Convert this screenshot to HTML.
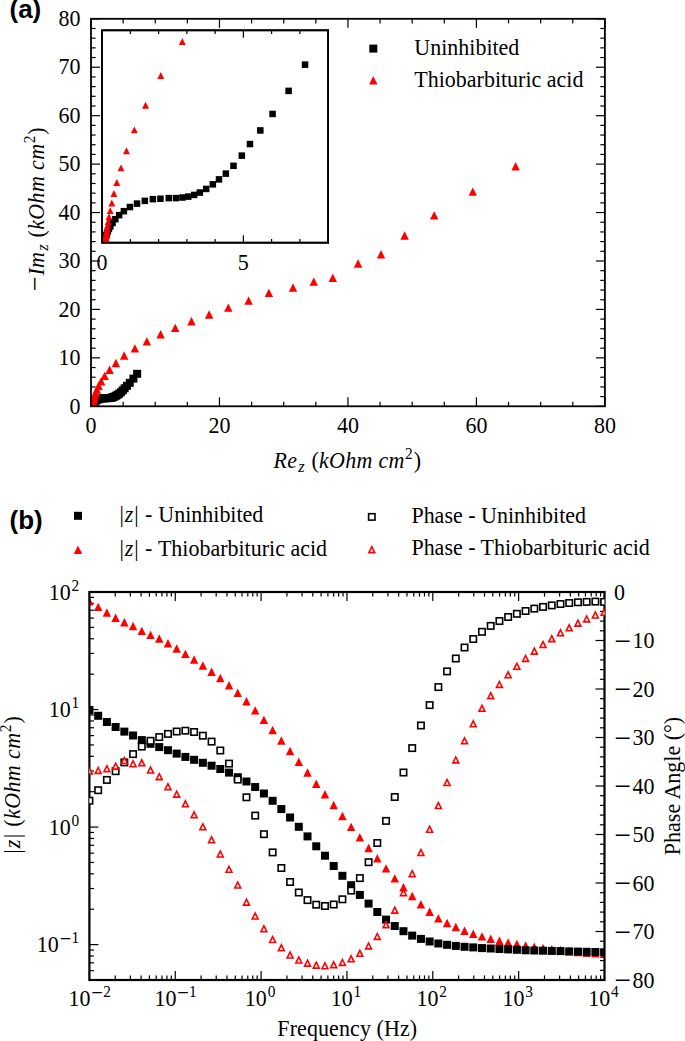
<!DOCTYPE html>
<html><head><meta charset="utf-8"><title>EIS Nyquist and Bode plots</title>
<style>html,body{margin:0;padding:0;background:#fff}body{width:685px;height:1041px;overflow:hidden}svg text{fill:#000}</style></head>
<body>
<svg width="685" height="1041" viewBox="0 0 685 1041" style="display:block">
<defs>
<clipPath id="ca"><rect x="91.00" y="18.80" width="513.90" height="387.50"/></clipPath>
<clipPath id="ci"><rect x="102.10" y="30.30" width="226.00" height="212.40"/></clipPath>
<clipPath id="cb"><rect x="89.40" y="592.00" width="515.10" height="388.00"/></clipPath>
</defs>
<rect width="685" height="1041" fill="#fff"/>
<line x1="91.00" y1="406.30" x2="91.00" y2="397.30" stroke="#000" stroke-width="1.2"/>
<line x1="91.00" y1="18.80" x2="91.00" y2="27.80" stroke="#000" stroke-width="1.2"/>
<line x1="123.12" y1="406.30" x2="123.12" y2="401.70" stroke="#000" stroke-width="1.2"/>
<line x1="123.12" y1="18.80" x2="123.12" y2="23.40" stroke="#000" stroke-width="1.2"/>
<line x1="155.24" y1="406.30" x2="155.24" y2="401.70" stroke="#000" stroke-width="1.2"/>
<line x1="155.24" y1="18.80" x2="155.24" y2="23.40" stroke="#000" stroke-width="1.2"/>
<line x1="187.36" y1="406.30" x2="187.36" y2="401.70" stroke="#000" stroke-width="1.2"/>
<line x1="187.36" y1="18.80" x2="187.36" y2="23.40" stroke="#000" stroke-width="1.2"/>
<line x1="219.47" y1="406.30" x2="219.47" y2="397.30" stroke="#000" stroke-width="1.2"/>
<line x1="219.47" y1="18.80" x2="219.47" y2="27.80" stroke="#000" stroke-width="1.2"/>
<line x1="251.59" y1="406.30" x2="251.59" y2="401.70" stroke="#000" stroke-width="1.2"/>
<line x1="251.59" y1="18.80" x2="251.59" y2="23.40" stroke="#000" stroke-width="1.2"/>
<line x1="283.71" y1="406.30" x2="283.71" y2="401.70" stroke="#000" stroke-width="1.2"/>
<line x1="283.71" y1="18.80" x2="283.71" y2="23.40" stroke="#000" stroke-width="1.2"/>
<line x1="315.83" y1="406.30" x2="315.83" y2="401.70" stroke="#000" stroke-width="1.2"/>
<line x1="315.83" y1="18.80" x2="315.83" y2="23.40" stroke="#000" stroke-width="1.2"/>
<line x1="347.95" y1="406.30" x2="347.95" y2="397.30" stroke="#000" stroke-width="1.2"/>
<line x1="347.95" y1="18.80" x2="347.95" y2="27.80" stroke="#000" stroke-width="1.2"/>
<line x1="380.07" y1="406.30" x2="380.07" y2="401.70" stroke="#000" stroke-width="1.2"/>
<line x1="380.07" y1="18.80" x2="380.07" y2="23.40" stroke="#000" stroke-width="1.2"/>
<line x1="412.19" y1="406.30" x2="412.19" y2="401.70" stroke="#000" stroke-width="1.2"/>
<line x1="412.19" y1="18.80" x2="412.19" y2="23.40" stroke="#000" stroke-width="1.2"/>
<line x1="444.31" y1="406.30" x2="444.31" y2="401.70" stroke="#000" stroke-width="1.2"/>
<line x1="444.31" y1="18.80" x2="444.31" y2="23.40" stroke="#000" stroke-width="1.2"/>
<line x1="476.43" y1="406.30" x2="476.43" y2="397.30" stroke="#000" stroke-width="1.2"/>
<line x1="476.43" y1="18.80" x2="476.43" y2="27.80" stroke="#000" stroke-width="1.2"/>
<line x1="508.54" y1="406.30" x2="508.54" y2="401.70" stroke="#000" stroke-width="1.2"/>
<line x1="508.54" y1="18.80" x2="508.54" y2="23.40" stroke="#000" stroke-width="1.2"/>
<line x1="540.66" y1="406.30" x2="540.66" y2="401.70" stroke="#000" stroke-width="1.2"/>
<line x1="540.66" y1="18.80" x2="540.66" y2="23.40" stroke="#000" stroke-width="1.2"/>
<line x1="572.78" y1="406.30" x2="572.78" y2="401.70" stroke="#000" stroke-width="1.2"/>
<line x1="572.78" y1="18.80" x2="572.78" y2="23.40" stroke="#000" stroke-width="1.2"/>
<line x1="604.90" y1="406.30" x2="604.90" y2="397.30" stroke="#000" stroke-width="1.2"/>
<line x1="604.90" y1="18.80" x2="604.90" y2="27.80" stroke="#000" stroke-width="1.2"/>
<line x1="91.00" y1="406.30" x2="100.00" y2="406.30" stroke="#000" stroke-width="1.2"/>
<line x1="604.90" y1="406.30" x2="595.90" y2="406.30" stroke="#000" stroke-width="1.2"/>
<line x1="91.00" y1="396.61" x2="95.60" y2="396.61" stroke="#000" stroke-width="1.2"/>
<line x1="604.90" y1="396.61" x2="600.30" y2="396.61" stroke="#000" stroke-width="1.2"/>
<line x1="91.00" y1="386.93" x2="95.60" y2="386.93" stroke="#000" stroke-width="1.2"/>
<line x1="604.90" y1="386.93" x2="600.30" y2="386.93" stroke="#000" stroke-width="1.2"/>
<line x1="91.00" y1="377.24" x2="95.60" y2="377.24" stroke="#000" stroke-width="1.2"/>
<line x1="604.90" y1="377.24" x2="600.30" y2="377.24" stroke="#000" stroke-width="1.2"/>
<line x1="91.00" y1="367.55" x2="95.60" y2="367.55" stroke="#000" stroke-width="1.2"/>
<line x1="604.90" y1="367.55" x2="600.30" y2="367.55" stroke="#000" stroke-width="1.2"/>
<line x1="91.00" y1="357.86" x2="100.00" y2="357.86" stroke="#000" stroke-width="1.2"/>
<line x1="604.90" y1="357.86" x2="595.90" y2="357.86" stroke="#000" stroke-width="1.2"/>
<line x1="91.00" y1="348.18" x2="95.60" y2="348.18" stroke="#000" stroke-width="1.2"/>
<line x1="604.90" y1="348.18" x2="600.30" y2="348.18" stroke="#000" stroke-width="1.2"/>
<line x1="91.00" y1="338.49" x2="95.60" y2="338.49" stroke="#000" stroke-width="1.2"/>
<line x1="604.90" y1="338.49" x2="600.30" y2="338.49" stroke="#000" stroke-width="1.2"/>
<line x1="91.00" y1="328.80" x2="95.60" y2="328.80" stroke="#000" stroke-width="1.2"/>
<line x1="604.90" y1="328.80" x2="600.30" y2="328.80" stroke="#000" stroke-width="1.2"/>
<line x1="91.00" y1="319.11" x2="95.60" y2="319.11" stroke="#000" stroke-width="1.2"/>
<line x1="604.90" y1="319.11" x2="600.30" y2="319.11" stroke="#000" stroke-width="1.2"/>
<line x1="91.00" y1="309.43" x2="100.00" y2="309.43" stroke="#000" stroke-width="1.2"/>
<line x1="604.90" y1="309.43" x2="595.90" y2="309.43" stroke="#000" stroke-width="1.2"/>
<line x1="91.00" y1="299.74" x2="95.60" y2="299.74" stroke="#000" stroke-width="1.2"/>
<line x1="604.90" y1="299.74" x2="600.30" y2="299.74" stroke="#000" stroke-width="1.2"/>
<line x1="91.00" y1="290.05" x2="95.60" y2="290.05" stroke="#000" stroke-width="1.2"/>
<line x1="604.90" y1="290.05" x2="600.30" y2="290.05" stroke="#000" stroke-width="1.2"/>
<line x1="91.00" y1="280.36" x2="95.60" y2="280.36" stroke="#000" stroke-width="1.2"/>
<line x1="604.90" y1="280.36" x2="600.30" y2="280.36" stroke="#000" stroke-width="1.2"/>
<line x1="91.00" y1="270.68" x2="95.60" y2="270.68" stroke="#000" stroke-width="1.2"/>
<line x1="604.90" y1="270.68" x2="600.30" y2="270.68" stroke="#000" stroke-width="1.2"/>
<line x1="91.00" y1="260.99" x2="100.00" y2="260.99" stroke="#000" stroke-width="1.2"/>
<line x1="604.90" y1="260.99" x2="595.90" y2="260.99" stroke="#000" stroke-width="1.2"/>
<line x1="91.00" y1="251.30" x2="95.60" y2="251.30" stroke="#000" stroke-width="1.2"/>
<line x1="604.90" y1="251.30" x2="600.30" y2="251.30" stroke="#000" stroke-width="1.2"/>
<line x1="91.00" y1="241.61" x2="95.60" y2="241.61" stroke="#000" stroke-width="1.2"/>
<line x1="604.90" y1="241.61" x2="600.30" y2="241.61" stroke="#000" stroke-width="1.2"/>
<line x1="91.00" y1="231.93" x2="95.60" y2="231.93" stroke="#000" stroke-width="1.2"/>
<line x1="604.90" y1="231.93" x2="600.30" y2="231.93" stroke="#000" stroke-width="1.2"/>
<line x1="91.00" y1="222.24" x2="95.60" y2="222.24" stroke="#000" stroke-width="1.2"/>
<line x1="604.90" y1="222.24" x2="600.30" y2="222.24" stroke="#000" stroke-width="1.2"/>
<line x1="91.00" y1="212.55" x2="100.00" y2="212.55" stroke="#000" stroke-width="1.2"/>
<line x1="604.90" y1="212.55" x2="595.90" y2="212.55" stroke="#000" stroke-width="1.2"/>
<line x1="91.00" y1="202.86" x2="95.60" y2="202.86" stroke="#000" stroke-width="1.2"/>
<line x1="604.90" y1="202.86" x2="600.30" y2="202.86" stroke="#000" stroke-width="1.2"/>
<line x1="91.00" y1="193.18" x2="95.60" y2="193.18" stroke="#000" stroke-width="1.2"/>
<line x1="604.90" y1="193.18" x2="600.30" y2="193.18" stroke="#000" stroke-width="1.2"/>
<line x1="91.00" y1="183.49" x2="95.60" y2="183.49" stroke="#000" stroke-width="1.2"/>
<line x1="604.90" y1="183.49" x2="600.30" y2="183.49" stroke="#000" stroke-width="1.2"/>
<line x1="91.00" y1="173.80" x2="95.60" y2="173.80" stroke="#000" stroke-width="1.2"/>
<line x1="604.90" y1="173.80" x2="600.30" y2="173.80" stroke="#000" stroke-width="1.2"/>
<line x1="91.00" y1="164.11" x2="100.00" y2="164.11" stroke="#000" stroke-width="1.2"/>
<line x1="604.90" y1="164.11" x2="595.90" y2="164.11" stroke="#000" stroke-width="1.2"/>
<line x1="91.00" y1="154.43" x2="95.60" y2="154.43" stroke="#000" stroke-width="1.2"/>
<line x1="604.90" y1="154.43" x2="600.30" y2="154.43" stroke="#000" stroke-width="1.2"/>
<line x1="91.00" y1="144.74" x2="95.60" y2="144.74" stroke="#000" stroke-width="1.2"/>
<line x1="604.90" y1="144.74" x2="600.30" y2="144.74" stroke="#000" stroke-width="1.2"/>
<line x1="91.00" y1="135.05" x2="95.60" y2="135.05" stroke="#000" stroke-width="1.2"/>
<line x1="604.90" y1="135.05" x2="600.30" y2="135.05" stroke="#000" stroke-width="1.2"/>
<line x1="91.00" y1="125.36" x2="95.60" y2="125.36" stroke="#000" stroke-width="1.2"/>
<line x1="604.90" y1="125.36" x2="600.30" y2="125.36" stroke="#000" stroke-width="1.2"/>
<line x1="91.00" y1="115.68" x2="100.00" y2="115.68" stroke="#000" stroke-width="1.2"/>
<line x1="604.90" y1="115.68" x2="595.90" y2="115.68" stroke="#000" stroke-width="1.2"/>
<line x1="91.00" y1="105.99" x2="95.60" y2="105.99" stroke="#000" stroke-width="1.2"/>
<line x1="604.90" y1="105.99" x2="600.30" y2="105.99" stroke="#000" stroke-width="1.2"/>
<line x1="91.00" y1="96.30" x2="95.60" y2="96.30" stroke="#000" stroke-width="1.2"/>
<line x1="604.90" y1="96.30" x2="600.30" y2="96.30" stroke="#000" stroke-width="1.2"/>
<line x1="91.00" y1="86.61" x2="95.60" y2="86.61" stroke="#000" stroke-width="1.2"/>
<line x1="604.90" y1="86.61" x2="600.30" y2="86.61" stroke="#000" stroke-width="1.2"/>
<line x1="91.00" y1="76.93" x2="95.60" y2="76.93" stroke="#000" stroke-width="1.2"/>
<line x1="604.90" y1="76.93" x2="600.30" y2="76.93" stroke="#000" stroke-width="1.2"/>
<line x1="91.00" y1="67.24" x2="100.00" y2="67.24" stroke="#000" stroke-width="1.2"/>
<line x1="604.90" y1="67.24" x2="595.90" y2="67.24" stroke="#000" stroke-width="1.2"/>
<line x1="91.00" y1="57.55" x2="95.60" y2="57.55" stroke="#000" stroke-width="1.2"/>
<line x1="604.90" y1="57.55" x2="600.30" y2="57.55" stroke="#000" stroke-width="1.2"/>
<line x1="91.00" y1="47.86" x2="95.60" y2="47.86" stroke="#000" stroke-width="1.2"/>
<line x1="604.90" y1="47.86" x2="600.30" y2="47.86" stroke="#000" stroke-width="1.2"/>
<line x1="91.00" y1="38.18" x2="95.60" y2="38.18" stroke="#000" stroke-width="1.2"/>
<line x1="604.90" y1="38.18" x2="600.30" y2="38.18" stroke="#000" stroke-width="1.2"/>
<line x1="91.00" y1="28.49" x2="95.60" y2="28.49" stroke="#000" stroke-width="1.2"/>
<line x1="604.90" y1="28.49" x2="600.30" y2="28.49" stroke="#000" stroke-width="1.2"/>
<line x1="91.00" y1="18.80" x2="100.00" y2="18.80" stroke="#000" stroke-width="1.2"/>
<line x1="604.90" y1="18.80" x2="595.90" y2="18.80" stroke="#000" stroke-width="1.2"/>
<g clip-path="url(#ca)">
<rect x="133.90" y="370.56" width="6.50" height="6.50" fill="#000" stroke="#000" stroke-width="1.5"/>
<rect x="130.16" y="375.35" width="6.50" height="6.50" fill="#000" stroke="#000" stroke-width="1.5"/>
<rect x="126.51" y="379.56" width="6.50" height="6.50" fill="#000" stroke="#000" stroke-width="1.5"/>
<rect x="123.73" y="382.57" width="6.50" height="6.50" fill="#000" stroke="#000" stroke-width="1.5"/>
<rect x="121.37" y="385.05" width="6.50" height="6.50" fill="#000" stroke="#000" stroke-width="1.5"/>
<rect x="119.52" y="387.16" width="6.50" height="6.50" fill="#000" stroke="#000" stroke-width="1.5"/>
<rect x="117.63" y="389.02" width="6.50" height="6.50" fill="#000" stroke="#000" stroke-width="1.5"/>
<rect x="115.89" y="390.44" width="6.50" height="6.50" fill="#000" stroke="#000" stroke-width="1.5"/>
<rect x="114.33" y="391.50" width="6.50" height="6.50" fill="#000" stroke="#000" stroke-width="1.5"/>
<rect x="112.93" y="392.40" width="6.50" height="6.50" fill="#000" stroke="#000" stroke-width="1.5"/>
<rect x="111.42" y="393.24" width="6.50" height="6.50" fill="#000" stroke="#000" stroke-width="1.5"/>
<rect x="109.97" y="393.90" width="6.50" height="6.50" fill="#000" stroke="#000" stroke-width="1.5"/>
<rect x="108.69" y="394.34" width="6.50" height="6.50" fill="#000" stroke="#000" stroke-width="1.5"/>
<rect x="107.35" y="394.64" width="6.50" height="6.50" fill="#000" stroke="#000" stroke-width="1.5"/>
<rect x="106.03" y="394.81" width="6.50" height="6.50" fill="#000" stroke="#000" stroke-width="1.5"/>
<rect x="104.55" y="394.91" width="6.50" height="6.50" fill="#000" stroke="#000" stroke-width="1.5"/>
<rect x="102.91" y="394.92" width="6.50" height="6.50" fill="#000" stroke="#000" stroke-width="1.5"/>
<rect x="101.02" y="395.03" width="6.50" height="6.50" fill="#000" stroke="#000" stroke-width="1.5"/>
<rect x="99.30" y="395.11" width="6.50" height="6.50" fill="#000" stroke="#000" stroke-width="1.5"/>
<rect x="97.47" y="395.42" width="6.50" height="6.50" fill="#000" stroke="#000" stroke-width="1.5"/>
<rect x="95.69" y="395.92" width="6.50" height="6.50" fill="#000" stroke="#000" stroke-width="1.5"/>
<rect x="94.08" y="396.54" width="6.50" height="6.50" fill="#000" stroke="#000" stroke-width="1.5"/>
<rect x="92.71" y="397.30" width="6.50" height="6.50" fill="#000" stroke="#000" stroke-width="1.5"/>
<rect x="91.62" y="398.02" width="6.50" height="6.50" fill="#000" stroke="#000" stroke-width="1.5"/>
<rect x="90.77" y="398.77" width="6.50" height="6.50" fill="#000" stroke="#000" stroke-width="1.5"/>
<rect x="90.12" y="399.45" width="6.50" height="6.50" fill="#000" stroke="#000" stroke-width="1.5"/>
<rect x="89.64" y="400.06" width="6.50" height="6.50" fill="#000" stroke="#000" stroke-width="1.5"/>
<rect x="89.30" y="400.56" width="6.50" height="6.50" fill="#000" stroke="#000" stroke-width="1.5"/>
<rect x="89.03" y="401.02" width="6.50" height="6.50" fill="#000" stroke="#000" stroke-width="1.5"/>
<rect x="88.85" y="401.39" width="6.50" height="6.50" fill="#000" stroke="#000" stroke-width="1.5"/>
<rect x="88.72" y="401.69" width="6.50" height="6.50" fill="#000" stroke="#000" stroke-width="1.5"/>
<rect x="88.62" y="401.96" width="6.50" height="6.50" fill="#000" stroke="#000" stroke-width="1.5"/>
<rect x="88.55" y="402.16" width="6.50" height="6.50" fill="#000" stroke="#000" stroke-width="1.5"/>
<rect x="88.50" y="402.33" width="6.50" height="6.50" fill="#000" stroke="#000" stroke-width="1.5"/>
<rect x="88.46" y="402.47" width="6.50" height="6.50" fill="#000" stroke="#000" stroke-width="1.5"/>
<rect x="88.43" y="402.58" width="6.50" height="6.50" fill="#000" stroke="#000" stroke-width="1.5"/>
<rect x="88.41" y="402.67" width="6.50" height="6.50" fill="#000" stroke="#000" stroke-width="1.5"/>
<rect x="88.39" y="402.74" width="6.50" height="6.50" fill="#000" stroke="#000" stroke-width="1.5"/>
<rect x="88.38" y="402.80" width="6.50" height="6.50" fill="#000" stroke="#000" stroke-width="1.5"/>
<rect x="88.37" y="402.85" width="6.50" height="6.50" fill="#000" stroke="#000" stroke-width="1.5"/>
<rect x="88.36" y="402.88" width="6.50" height="6.50" fill="#000" stroke="#000" stroke-width="1.5"/>
<rect x="88.36" y="402.91" width="6.50" height="6.50" fill="#000" stroke="#000" stroke-width="1.5"/>
<rect x="88.35" y="402.94" width="6.50" height="6.50" fill="#000" stroke="#000" stroke-width="1.5"/>
<rect x="88.35" y="402.96" width="6.50" height="6.50" fill="#000" stroke="#000" stroke-width="1.5"/>
<rect x="88.35" y="402.97" width="6.50" height="6.50" fill="#000" stroke="#000" stroke-width="1.5"/>
<rect x="88.34" y="402.99" width="6.50" height="6.50" fill="#000" stroke="#000" stroke-width="1.5"/>
<rect x="88.34" y="403.00" width="6.50" height="6.50" fill="#000" stroke="#000" stroke-width="1.5"/>
<rect x="88.33" y="403.00" width="6.50" height="6.50" fill="#000" stroke="#000" stroke-width="1.5"/>
<rect x="88.33" y="403.01" width="6.50" height="6.50" fill="#000" stroke="#000" stroke-width="1.5"/>
<rect x="88.32" y="403.02" width="6.50" height="6.50" fill="#000" stroke="#000" stroke-width="1.5"/>
<rect x="88.32" y="403.02" width="6.50" height="6.50" fill="#000" stroke="#000" stroke-width="1.5"/>
<rect x="88.32" y="403.02" width="6.50" height="6.50" fill="#000" stroke="#000" stroke-width="1.5"/>
<rect x="88.32" y="403.03" width="6.50" height="6.50" fill="#000" stroke="#000" stroke-width="1.5"/>
<rect x="88.31" y="403.03" width="6.50" height="6.50" fill="#000" stroke="#000" stroke-width="1.5"/>
<rect x="88.31" y="403.03" width="6.50" height="6.50" fill="#000" stroke="#000" stroke-width="1.5"/>
<rect x="88.31" y="403.03" width="6.50" height="6.50" fill="#000" stroke="#000" stroke-width="1.5"/>
<rect x="88.31" y="403.03" width="6.50" height="6.50" fill="#000" stroke="#000" stroke-width="1.5"/>
<rect x="88.30" y="403.04" width="6.50" height="6.50" fill="#000" stroke="#000" stroke-width="1.5"/>
<rect x="88.30" y="403.04" width="6.50" height="6.50" fill="#000" stroke="#000" stroke-width="1.5"/>
<rect x="88.30" y="403.04" width="6.50" height="6.50" fill="#000" stroke="#000" stroke-width="1.5"/>
<path d="M515.62,163.80 L518.62,169.80 L512.62,169.80 Z" fill="#f00" stroke="#f00" stroke-width="1.5" stroke-linejoin="miter"/>
<path d="M472.76,189.09 L475.76,195.09 L469.76,195.09 Z" fill="#f00" stroke="#f00" stroke-width="1.5" stroke-linejoin="miter"/>
<path d="M434.18,212.83 L437.18,218.83 L431.18,218.83 Z" fill="#f00" stroke="#f00" stroke-width="1.5" stroke-linejoin="miter"/>
<path d="M404.60,232.93 L407.60,238.93 L401.60,238.93 Z" fill="#f00" stroke="#f00" stroke-width="1.5" stroke-linejoin="miter"/>
<path d="M381.07,251.77 L384.07,257.77 L378.07,257.77 Z" fill="#f00" stroke="#f00" stroke-width="1.5" stroke-linejoin="miter"/>
<path d="M358.06,260.92 L361.06,266.92 L355.06,266.92 Z" fill="#f00" stroke="#f00" stroke-width="1.5" stroke-linejoin="miter"/>
<path d="M332.79,275.25 L335.79,281.25 L329.79,281.25 Z" fill="#f00" stroke="#f00" stroke-width="1.5" stroke-linejoin="miter"/>
<path d="M313.76,279.06 L316.76,285.06 L310.76,285.06 Z" fill="#f00" stroke="#f00" stroke-width="1.5" stroke-linejoin="miter"/>
<path d="M293.04,285.00 L296.04,291.00 L290.04,291.00 Z" fill="#f00" stroke="#f00" stroke-width="1.5" stroke-linejoin="miter"/>
<path d="M268.90,290.29 L271.90,296.29 L265.90,296.29 Z" fill="#f00" stroke="#f00" stroke-width="1.5" stroke-linejoin="miter"/>
<path d="M248.59,298.12 L251.59,304.12 L245.59,304.12 Z" fill="#f00" stroke="#f00" stroke-width="1.5" stroke-linejoin="miter"/>
<path d="M228.30,305.07 L231.30,311.07 L225.30,311.07 Z" fill="#f00" stroke="#f00" stroke-width="1.5" stroke-linejoin="miter"/>
<path d="M209.12,311.95 L212.12,317.95 L206.12,317.95 Z" fill="#f00" stroke="#f00" stroke-width="1.5" stroke-linejoin="miter"/>
<path d="M191.46,318.64 L194.46,324.64 L188.46,324.64 Z" fill="#f00" stroke="#f00" stroke-width="1.5" stroke-linejoin="miter"/>
<path d="M175.21,325.34 L178.21,331.34 L172.21,331.34 Z" fill="#f00" stroke="#f00" stroke-width="1.5" stroke-linejoin="miter"/>
<path d="M160.63,331.67 L163.63,337.67 L157.63,337.67 Z" fill="#f00" stroke="#f00" stroke-width="1.5" stroke-linejoin="miter"/>
<path d="M146.86,338.78 L149.86,344.78 L143.86,344.78 Z" fill="#f00" stroke="#f00" stroke-width="1.5" stroke-linejoin="miter"/>
<path d="M134.87,345.82 L137.87,351.82 L131.87,351.82 Z" fill="#f00" stroke="#f00" stroke-width="1.5" stroke-linejoin="miter"/>
<path d="M124.17,353.00 L127.17,359.00 L121.17,359.00 Z" fill="#f00" stroke="#f00" stroke-width="1.5" stroke-linejoin="miter"/>
<path d="M115.89,360.41 L118.89,366.41 L112.89,366.41 Z" fill="#f00" stroke="#f00" stroke-width="1.5" stroke-linejoin="miter"/>
<path d="M109.54,367.17 L112.54,373.17 L106.54,373.17 Z" fill="#f00" stroke="#f00" stroke-width="1.5" stroke-linejoin="miter"/>
<path d="M104.64,373.35 L107.64,379.35 L101.64,379.35 Z" fill="#f00" stroke="#f00" stroke-width="1.5" stroke-linejoin="miter"/>
<path d="M101.17,378.78 L104.17,384.78 L98.17,384.78 Z" fill="#f00" stroke="#f00" stroke-width="1.5" stroke-linejoin="miter"/>
<path d="M98.63,383.29 L101.63,389.29 L95.63,389.29 Z" fill="#f00" stroke="#f00" stroke-width="1.5" stroke-linejoin="miter"/>
<path d="M96.85,387.09 L99.85,393.09 L93.85,393.09 Z" fill="#f00" stroke="#f00" stroke-width="1.5" stroke-linejoin="miter"/>
<path d="M95.60,390.22 L98.60,396.22 L92.60,396.22 Z" fill="#f00" stroke="#f00" stroke-width="1.5" stroke-linejoin="miter"/>
<path d="M94.64,392.88 L97.64,398.88 L91.64,398.88 Z" fill="#f00" stroke="#f00" stroke-width="1.5" stroke-linejoin="miter"/>
<path d="M94.00,394.91 L97.00,400.91 L91.00,400.91 Z" fill="#f00" stroke="#f00" stroke-width="1.5" stroke-linejoin="miter"/>
<path d="M93.51,396.62 L96.51,402.62 L90.51,402.62 Z" fill="#f00" stroke="#f00" stroke-width="1.5" stroke-linejoin="miter"/>
<path d="M93.15,398.02 L96.15,404.02 L90.15,404.02 Z" fill="#f00" stroke="#f00" stroke-width="1.5" stroke-linejoin="miter"/>
<path d="M92.87,399.14 L95.87,405.14 L89.87,405.14 Z" fill="#f00" stroke="#f00" stroke-width="1.5" stroke-linejoin="miter"/>
<path d="M92.68,400.02 L95.68,406.02 L89.68,406.02 Z" fill="#f00" stroke="#f00" stroke-width="1.5" stroke-linejoin="miter"/>
<path d="M92.53,400.76 L95.53,406.76 L89.53,406.76 Z" fill="#f00" stroke="#f00" stroke-width="1.5" stroke-linejoin="miter"/>
<path d="M92.42,401.34 L95.42,407.34 L89.42,407.34 Z" fill="#f00" stroke="#f00" stroke-width="1.5" stroke-linejoin="miter"/>
<path d="M92.33,401.82 L95.33,407.82 L89.33,407.82 Z" fill="#f00" stroke="#f00" stroke-width="1.5" stroke-linejoin="miter"/>
<path d="M92.26,402.21 L95.26,408.21 L89.26,408.21 Z" fill="#f00" stroke="#f00" stroke-width="1.5" stroke-linejoin="miter"/>
<path d="M92.22,402.50 L95.22,408.50 L89.22,408.50 Z" fill="#f00" stroke="#f00" stroke-width="1.5" stroke-linejoin="miter"/>
<path d="M92.17,402.75 L95.17,408.75 L89.17,408.75 Z" fill="#f00" stroke="#f00" stroke-width="1.5" stroke-linejoin="miter"/>
<path d="M92.13,402.95 L95.13,408.95 L89.13,408.95 Z" fill="#f00" stroke="#f00" stroke-width="1.5" stroke-linejoin="miter"/>
<path d="M92.09,403.11 L95.09,409.11 L89.09,409.11 Z" fill="#f00" stroke="#f00" stroke-width="1.5" stroke-linejoin="miter"/>
<path d="M92.06,403.24 L95.06,409.24 L89.06,409.24 Z" fill="#f00" stroke="#f00" stroke-width="1.5" stroke-linejoin="miter"/>
<path d="M92.05,403.34 L95.05,409.34 L89.05,409.34 Z" fill="#f00" stroke="#f00" stroke-width="1.5" stroke-linejoin="miter"/>
<path d="M92.04,403.42 L95.04,409.42 L89.04,409.42 Z" fill="#f00" stroke="#f00" stroke-width="1.5" stroke-linejoin="miter"/>
<path d="M92.02,403.48 L95.02,409.48 L89.02,409.48 Z" fill="#f00" stroke="#f00" stroke-width="1.5" stroke-linejoin="miter"/>
<path d="M92.00,403.53 L95.00,409.53 L89.00,409.53 Z" fill="#f00" stroke="#f00" stroke-width="1.5" stroke-linejoin="miter"/>
<path d="M91.98,403.57 L94.98,409.57 L88.98,409.57 Z" fill="#f00" stroke="#f00" stroke-width="1.5" stroke-linejoin="miter"/>
<path d="M91.96,403.60 L94.96,409.60 L88.96,409.60 Z" fill="#f00" stroke="#f00" stroke-width="1.5" stroke-linejoin="miter"/>
<path d="M91.95,403.63 L94.95,409.63 L88.95,409.63 Z" fill="#f00" stroke="#f00" stroke-width="1.5" stroke-linejoin="miter"/>
<path d="M91.93,403.65 L94.93,409.65 L88.93,409.65 Z" fill="#f00" stroke="#f00" stroke-width="1.5" stroke-linejoin="miter"/>
<path d="M91.92,403.67 L94.92,409.67 L88.92,409.67 Z" fill="#f00" stroke="#f00" stroke-width="1.5" stroke-linejoin="miter"/>
<path d="M91.90,403.69 L94.90,409.69 L88.90,409.69 Z" fill="#f00" stroke="#f00" stroke-width="1.5" stroke-linejoin="miter"/>
<path d="M91.89,403.70 L94.89,409.70 L88.89,409.70 Z" fill="#f00" stroke="#f00" stroke-width="1.5" stroke-linejoin="miter"/>
<path d="M91.88,403.72 L94.88,409.72 L88.88,409.72 Z" fill="#f00" stroke="#f00" stroke-width="1.5" stroke-linejoin="miter"/>
<path d="M91.87,403.73 L94.87,409.73 L88.87,409.73 Z" fill="#f00" stroke="#f00" stroke-width="1.5" stroke-linejoin="miter"/>
<path d="M91.86,403.74 L94.86,409.74 L88.86,409.74 Z" fill="#f00" stroke="#f00" stroke-width="1.5" stroke-linejoin="miter"/>
<path d="M91.85,403.75 L94.85,409.75 L88.85,409.75 Z" fill="#f00" stroke="#f00" stroke-width="1.5" stroke-linejoin="miter"/>
<path d="M91.84,403.75 L94.84,409.75 L88.84,409.75 Z" fill="#f00" stroke="#f00" stroke-width="1.5" stroke-linejoin="miter"/>
<path d="M91.84,403.76 L94.84,409.76 L88.84,409.76 Z" fill="#f00" stroke="#f00" stroke-width="1.5" stroke-linejoin="miter"/>
<path d="M91.83,403.77 L94.83,409.77 L88.83,409.77 Z" fill="#f00" stroke="#f00" stroke-width="1.5" stroke-linejoin="miter"/>
<path d="M91.83,403.77 L94.83,409.77 L88.83,409.77 Z" fill="#f00" stroke="#f00" stroke-width="1.5" stroke-linejoin="miter"/>
</g>
<rect x="91.00" y="18.80" width="513.90" height="387.50" fill="none" stroke="#000" stroke-width="1.8"/>
<text transform="translate(91.00,432.80) scale(1,1.075)" text-anchor="middle" font-size="22" font-family='"Liberation Serif", "DejaVu Serif", serif' >0</text>
<text transform="translate(219.47,432.80) scale(1,1.075)" text-anchor="middle" font-size="22" font-family='"Liberation Serif", "DejaVu Serif", serif' >20</text>
<text transform="translate(347.95,432.80) scale(1,1.075)" text-anchor="middle" font-size="22" font-family='"Liberation Serif", "DejaVu Serif", serif' >40</text>
<text transform="translate(476.43,432.80) scale(1,1.075)" text-anchor="middle" font-size="22" font-family='"Liberation Serif", "DejaVu Serif", serif' >60</text>
<text transform="translate(604.90,432.80) scale(1,1.075)" text-anchor="middle" font-size="22" font-family='"Liberation Serif", "DejaVu Serif", serif' >80</text>
<text transform="translate(80.50,413.50) scale(1,1.075)" text-anchor="end" font-size="22" font-family='"Liberation Serif", "DejaVu Serif", serif' >0</text>
<text transform="translate(80.50,365.06) scale(1,1.075)" text-anchor="end" font-size="22" font-family='"Liberation Serif", "DejaVu Serif", serif' >10</text>
<text transform="translate(80.50,316.62) scale(1,1.075)" text-anchor="end" font-size="22" font-family='"Liberation Serif", "DejaVu Serif", serif' >20</text>
<text transform="translate(80.50,268.19) scale(1,1.075)" text-anchor="end" font-size="22" font-family='"Liberation Serif", "DejaVu Serif", serif' >30</text>
<text transform="translate(80.50,219.75) scale(1,1.075)" text-anchor="end" font-size="22" font-family='"Liberation Serif", "DejaVu Serif", serif' >40</text>
<text transform="translate(80.50,171.31) scale(1,1.075)" text-anchor="end" font-size="22" font-family='"Liberation Serif", "DejaVu Serif", serif' >50</text>
<text transform="translate(80.50,122.88) scale(1,1.075)" text-anchor="end" font-size="22" font-family='"Liberation Serif", "DejaVu Serif", serif' >60</text>
<text transform="translate(80.50,74.44) scale(1,1.075)" text-anchor="end" font-size="22" font-family='"Liberation Serif", "DejaVu Serif", serif' >70</text>
<text transform="translate(80.50,26.00) scale(1,1.075)" text-anchor="end" font-size="22" font-family='"Liberation Serif", "DejaVu Serif", serif' >80</text>
<text transform="translate(347.40,468.00) scale(1,1.075)" text-anchor="middle" font-size="22" font-family='"Liberation Serif", "DejaVu Serif", serif' letter-spacing="0.3"><tspan font-style="italic">Re</tspan><tspan font-style="italic" font-size="16.5" dy="4" dx="1.0">z</tspan><tspan dy="-4" dx="0.6"> (</tspan><tspan font-style="italic">kOhm cm</tspan><tspan font-size="15.4" dy="-8.3" dx="0.3">2</tspan><tspan dy="8.3" dx="0.6">)</tspan></text>
<g transform="translate(44,209.0) rotate(-90)">
<text transform="translate(0.00,0.00) scale(1,1.075)" text-anchor="middle" font-size="22" font-family='"Liberation Serif", "DejaVu Serif", serif' letter-spacing="0.35"><tspan font-size="26">−</tspan><tspan font-style="italic" dx="0.4">Im</tspan><tspan font-style="italic" font-size="16.5" dy="4" dx="1.0">z</tspan><tspan dy="-4" dx="0.6"> (</tspan><tspan font-style="italic">kOhm cm</tspan><tspan font-size="15.4" dy="-8.3" dx="0.3">2</tspan><tspan dy="8.3" dx="0.6">)</tspan></text>
</g>
<text transform="translate(9.50,18.40) scale(1,1.0)" text-anchor="start" font-size="26" font-family='"Liberation Sans", "DejaVu Sans", sans-serif' font-weight="bold">(a)</text>
<rect x="370.05" y="45.35" width="6.50" height="6.50" fill="#000" stroke="#000" stroke-width="1.5"/>
<text transform="translate(414.30,55.10) scale(1,1.075)" text-anchor="start" font-size="22" font-family='"Liberation Serif", "DejaVu Serif", serif' >Uninhibited</text>
<path d="M373.30,77.75 L376.30,83.75 L370.30,83.75 Z" fill="#f00" stroke="#f00" stroke-width="1.5" stroke-linejoin="miter"/>
<text transform="translate(414.30,86.90) scale(1,1.075)" text-anchor="start" font-size="22" font-family='"Liberation Serif", "DejaVu Serif", serif' >Thiobarbituric acid</text>
<rect x="102.10" y="30.30" width="226.00" height="212.40" fill="#fff" stroke="#000" stroke-width="1.8"/>
<line x1="102.10" y1="242.70" x2="102.10" y2="235.20" stroke="#000" stroke-width="1.2"/>
<line x1="102.10" y1="30.30" x2="102.10" y2="37.80" stroke="#000" stroke-width="1.2"/>
<line x1="130.35" y1="242.70" x2="130.35" y2="238.90" stroke="#000" stroke-width="1.2"/>
<line x1="130.35" y1="30.30" x2="130.35" y2="34.10" stroke="#000" stroke-width="1.2"/>
<line x1="158.60" y1="242.70" x2="158.60" y2="238.90" stroke="#000" stroke-width="1.2"/>
<line x1="158.60" y1="30.30" x2="158.60" y2="34.10" stroke="#000" stroke-width="1.2"/>
<line x1="186.85" y1="242.70" x2="186.85" y2="238.90" stroke="#000" stroke-width="1.2"/>
<line x1="186.85" y1="30.30" x2="186.85" y2="34.10" stroke="#000" stroke-width="1.2"/>
<line x1="215.10" y1="242.70" x2="215.10" y2="238.90" stroke="#000" stroke-width="1.2"/>
<line x1="215.10" y1="30.30" x2="215.10" y2="34.10" stroke="#000" stroke-width="1.2"/>
<line x1="243.35" y1="242.70" x2="243.35" y2="235.20" stroke="#000" stroke-width="1.2"/>
<line x1="243.35" y1="30.30" x2="243.35" y2="37.80" stroke="#000" stroke-width="1.2"/>
<line x1="271.60" y1="242.70" x2="271.60" y2="238.90" stroke="#000" stroke-width="1.2"/>
<line x1="271.60" y1="30.30" x2="271.60" y2="34.10" stroke="#000" stroke-width="1.2"/>
<line x1="299.85" y1="242.70" x2="299.85" y2="238.90" stroke="#000" stroke-width="1.2"/>
<line x1="299.85" y1="30.30" x2="299.85" y2="34.10" stroke="#000" stroke-width="1.2"/>
<line x1="328.10" y1="242.70" x2="328.10" y2="238.90" stroke="#000" stroke-width="1.2"/>
<line x1="328.10" y1="30.30" x2="328.10" y2="34.10" stroke="#000" stroke-width="1.2"/>
<g clip-path="url(#ci)">
<rect x="302.47" y="62.03" width="5.20" height="5.20" fill="#000" stroke="#000" stroke-width="1.3"/>
<rect x="285.99" y="88.28" width="5.20" height="5.20" fill="#000" stroke="#000" stroke-width="1.3"/>
<rect x="269.96" y="111.36" width="5.20" height="5.20" fill="#000" stroke="#000" stroke-width="1.3"/>
<rect x="257.74" y="127.85" width="5.20" height="5.20" fill="#000" stroke="#000" stroke-width="1.3"/>
<rect x="247.36" y="141.46" width="5.20" height="5.20" fill="#000" stroke="#000" stroke-width="1.3"/>
<rect x="239.21" y="153.02" width="5.20" height="5.20" fill="#000" stroke="#000" stroke-width="1.3"/>
<rect x="230.89" y="163.21" width="5.20" height="5.20" fill="#000" stroke="#000" stroke-width="1.3"/>
<rect x="223.26" y="171.01" width="5.20" height="5.20" fill="#000" stroke="#000" stroke-width="1.3"/>
<rect x="216.41" y="176.80" width="5.20" height="5.20" fill="#000" stroke="#000" stroke-width="1.3"/>
<rect x="210.24" y="181.73" width="5.20" height="5.20" fill="#000" stroke="#000" stroke-width="1.3"/>
<rect x="203.59" y="186.33" width="5.20" height="5.20" fill="#000" stroke="#000" stroke-width="1.3"/>
<rect x="197.22" y="189.97" width="5.20" height="5.20" fill="#000" stroke="#000" stroke-width="1.3"/>
<rect x="191.59" y="192.33" width="5.20" height="5.20" fill="#000" stroke="#000" stroke-width="1.3"/>
<rect x="185.68" y="193.98" width="5.20" height="5.20" fill="#000" stroke="#000" stroke-width="1.3"/>
<rect x="179.91" y="194.91" width="5.20" height="5.20" fill="#000" stroke="#000" stroke-width="1.3"/>
<rect x="173.39" y="195.50" width="5.20" height="5.20" fill="#000" stroke="#000" stroke-width="1.3"/>
<rect x="166.19" y="195.53" width="5.20" height="5.20" fill="#000" stroke="#000" stroke-width="1.3"/>
<rect x="157.84" y="196.14" width="5.20" height="5.20" fill="#000" stroke="#000" stroke-width="1.3"/>
<rect x="150.27" y="196.57" width="5.20" height="5.20" fill="#000" stroke="#000" stroke-width="1.3"/>
<rect x="142.24" y="198.28" width="5.20" height="5.20" fill="#000" stroke="#000" stroke-width="1.3"/>
<rect x="134.42" y="201.00" width="5.20" height="5.20" fill="#000" stroke="#000" stroke-width="1.3"/>
<rect x="127.34" y="204.43" width="5.20" height="5.20" fill="#000" stroke="#000" stroke-width="1.3"/>
<rect x="121.31" y="208.58" width="5.20" height="5.20" fill="#000" stroke="#000" stroke-width="1.3"/>
<rect x="116.54" y="212.53" width="5.20" height="5.20" fill="#000" stroke="#000" stroke-width="1.3"/>
<rect x="112.76" y="216.64" width="5.20" height="5.20" fill="#000" stroke="#000" stroke-width="1.3"/>
<rect x="109.92" y="220.39" width="5.20" height="5.20" fill="#000" stroke="#000" stroke-width="1.3"/>
<rect x="107.79" y="223.73" width="5.20" height="5.20" fill="#000" stroke="#000" stroke-width="1.3"/>
<rect x="106.33" y="226.46" width="5.20" height="5.20" fill="#000" stroke="#000" stroke-width="1.3"/>
<rect x="105.14" y="228.98" width="5.20" height="5.20" fill="#000" stroke="#000" stroke-width="1.3"/>
<rect x="104.34" y="231.01" width="5.20" height="5.20" fill="#000" stroke="#000" stroke-width="1.3"/>
<rect x="103.77" y="232.66" width="5.20" height="5.20" fill="#000" stroke="#000" stroke-width="1.3"/>
<rect x="103.32" y="234.11" width="5.20" height="5.20" fill="#000" stroke="#000" stroke-width="1.3"/>
<rect x="103.03" y="235.23" width="5.20" height="5.20" fill="#000" stroke="#000" stroke-width="1.3"/>
<rect x="102.79" y="236.17" width="5.20" height="5.20" fill="#000" stroke="#000" stroke-width="1.3"/>
<rect x="102.61" y="236.94" width="5.20" height="5.20" fill="#000" stroke="#000" stroke-width="1.3"/>
<rect x="102.49" y="237.54" width="5.20" height="5.20" fill="#000" stroke="#000" stroke-width="1.3"/>
<rect x="102.40" y="238.02" width="5.20" height="5.20" fill="#000" stroke="#000" stroke-width="1.3"/>
<rect x="102.33" y="238.42" width="5.20" height="5.20" fill="#000" stroke="#000" stroke-width="1.3"/>
<rect x="102.28" y="238.74" width="5.20" height="5.20" fill="#000" stroke="#000" stroke-width="1.3"/>
<rect x="102.24" y="238.99" width="5.20" height="5.20" fill="#000" stroke="#000" stroke-width="1.3"/>
<rect x="102.20" y="239.19" width="5.20" height="5.20" fill="#000" stroke="#000" stroke-width="1.3"/>
<rect x="102.18" y="239.36" width="5.20" height="5.20" fill="#000" stroke="#000" stroke-width="1.3"/>
<rect x="102.16" y="239.49" width="5.20" height="5.20" fill="#000" stroke="#000" stroke-width="1.3"/>
<rect x="102.13" y="239.60" width="5.20" height="5.20" fill="#000" stroke="#000" stroke-width="1.3"/>
<rect x="102.12" y="239.68" width="5.20" height="5.20" fill="#000" stroke="#000" stroke-width="1.3"/>
<rect x="102.09" y="239.75" width="5.20" height="5.20" fill="#000" stroke="#000" stroke-width="1.3"/>
<rect x="102.08" y="239.80" width="5.20" height="5.20" fill="#000" stroke="#000" stroke-width="1.3"/>
<rect x="102.06" y="239.85" width="5.20" height="5.20" fill="#000" stroke="#000" stroke-width="1.3"/>
<rect x="102.04" y="239.88" width="5.20" height="5.20" fill="#000" stroke="#000" stroke-width="1.3"/>
<rect x="102.03" y="239.91" width="5.20" height="5.20" fill="#000" stroke="#000" stroke-width="1.3"/>
<rect x="102.00" y="239.94" width="5.20" height="5.20" fill="#000" stroke="#000" stroke-width="1.3"/>
<rect x="101.99" y="239.96" width="5.20" height="5.20" fill="#000" stroke="#000" stroke-width="1.3"/>
<rect x="101.99" y="239.97" width="5.20" height="5.20" fill="#000" stroke="#000" stroke-width="1.3"/>
<rect x="101.98" y="239.99" width="5.20" height="5.20" fill="#000" stroke="#000" stroke-width="1.3"/>
<rect x="101.97" y="240.00" width="5.20" height="5.20" fill="#000" stroke="#000" stroke-width="1.3"/>
<rect x="101.95" y="240.01" width="5.20" height="5.20" fill="#000" stroke="#000" stroke-width="1.3"/>
<rect x="101.94" y="240.01" width="5.20" height="5.20" fill="#000" stroke="#000" stroke-width="1.3"/>
<rect x="101.93" y="240.02" width="5.20" height="5.20" fill="#000" stroke="#000" stroke-width="1.3"/>
<rect x="101.93" y="240.02" width="5.20" height="5.20" fill="#000" stroke="#000" stroke-width="1.3"/>
<rect x="101.91" y="240.02" width="5.20" height="5.20" fill="#000" stroke="#000" stroke-width="1.3"/>
<path d="M1967.70,-1076.88 L1970.15,-1071.98 L1965.25,-1071.98 Z" fill="#f00" stroke="#f00" stroke-width="1.25" stroke-linejoin="miter"/>
<path d="M1779.22,-939.37 L1781.67,-934.47 L1776.77,-934.47 Z" fill="#f00" stroke="#f00" stroke-width="1.25" stroke-linejoin="miter"/>
<path d="M1608.70,-805.97 L1611.15,-801.07 L1606.25,-801.07 Z" fill="#f00" stroke="#f00" stroke-width="1.25" stroke-linejoin="miter"/>
<path d="M1471.99,-692.52 L1474.44,-687.62 L1469.54,-687.62 Z" fill="#f00" stroke="#f00" stroke-width="1.25" stroke-linejoin="miter"/>
<path d="M1376.86,-591.42 L1379.31,-586.52 L1374.41,-586.52 Z" fill="#f00" stroke="#f00" stroke-width="1.25" stroke-linejoin="miter"/>
<path d="M1273.47,-542.93 L1275.92,-538.03 L1271.02,-538.03 Z" fill="#f00" stroke="#f00" stroke-width="1.25" stroke-linejoin="miter"/>
<path d="M1170.70,-469.32 L1173.15,-464.42 L1168.25,-464.42 Z" fill="#f00" stroke="#f00" stroke-width="1.25" stroke-linejoin="miter"/>
<path d="M1071.64,-439.64 L1074.09,-434.74 L1069.19,-434.74 Z" fill="#f00" stroke="#f00" stroke-width="1.25" stroke-linejoin="miter"/>
<path d="M987.54,-412.03 L989.99,-407.13 L985.09,-407.13 Z" fill="#f00" stroke="#f00" stroke-width="1.25" stroke-linejoin="miter"/>
<path d="M887.56,-383.03 L890.01,-378.13 L885.11,-378.13 Z" fill="#f00" stroke="#f00" stroke-width="1.25" stroke-linejoin="miter"/>
<path d="M793.84,-339.03 L796.29,-334.13 L791.39,-334.13 Z" fill="#f00" stroke="#f00" stroke-width="1.25" stroke-linejoin="miter"/>
<path d="M704.58,-300.94 L707.03,-296.04 L702.13,-296.04 Z" fill="#f00" stroke="#f00" stroke-width="1.25" stroke-linejoin="miter"/>
<path d="M620.24,-263.21 L622.69,-258.31 L617.79,-258.31 Z" fill="#f00" stroke="#f00" stroke-width="1.25" stroke-linejoin="miter"/>
<path d="M542.57,-226.53 L545.02,-221.63 L540.12,-221.63 Z" fill="#f00" stroke="#f00" stroke-width="1.25" stroke-linejoin="miter"/>
<path d="M471.13,-189.80 L473.58,-184.90 L468.68,-184.90 Z" fill="#f00" stroke="#f00" stroke-width="1.25" stroke-linejoin="miter"/>
<path d="M406.99,-155.10 L409.44,-150.20 L404.54,-150.20 Z" fill="#f00" stroke="#f00" stroke-width="1.25" stroke-linejoin="miter"/>
<path d="M346.45,-116.14 L348.90,-111.24 L344.00,-111.24 Z" fill="#f00" stroke="#f00" stroke-width="1.25" stroke-linejoin="miter"/>
<path d="M293.69,-77.55 L296.14,-72.65 L291.24,-72.65 Z" fill="#f00" stroke="#f00" stroke-width="1.25" stroke-linejoin="miter"/>
<path d="M246.63,-38.18 L249.08,-33.28 L244.18,-33.28 Z" fill="#f00" stroke="#f00" stroke-width="1.25" stroke-linejoin="miter"/>
<path d="M210.24,2.40 L212.69,7.30 L207.79,7.30 Z" fill="#f00" stroke="#f00" stroke-width="1.25" stroke-linejoin="miter"/>
<path d="M182.32,39.47 L184.77,44.37 L179.87,44.37 Z" fill="#f00" stroke="#f00" stroke-width="1.25" stroke-linejoin="miter"/>
<path d="M160.78,73.36 L163.23,78.26 L158.33,78.26 Z" fill="#f00" stroke="#f00" stroke-width="1.25" stroke-linejoin="miter"/>
<path d="M145.52,103.13 L147.97,108.03 L143.07,108.03 Z" fill="#f00" stroke="#f00" stroke-width="1.25" stroke-linejoin="miter"/>
<path d="M134.35,127.83 L136.80,132.73 L131.90,132.73 Z" fill="#f00" stroke="#f00" stroke-width="1.25" stroke-linejoin="miter"/>
<path d="M126.49,148.68 L128.94,153.58 L124.04,153.58 Z" fill="#f00" stroke="#f00" stroke-width="1.25" stroke-linejoin="miter"/>
<path d="M120.99,165.81 L123.44,170.71 L118.54,170.71 Z" fill="#f00" stroke="#f00" stroke-width="1.25" stroke-linejoin="miter"/>
<path d="M116.81,180.39 L119.26,185.29 L114.36,185.29 Z" fill="#f00" stroke="#f00" stroke-width="1.25" stroke-linejoin="miter"/>
<path d="M113.96,191.50 L116.41,196.40 L111.51,196.40 Z" fill="#f00" stroke="#f00" stroke-width="1.25" stroke-linejoin="miter"/>
<path d="M111.83,200.92 L114.28,205.82 L109.38,205.82 Z" fill="#f00" stroke="#f00" stroke-width="1.25" stroke-linejoin="miter"/>
<path d="M110.24,208.55 L112.69,213.45 L107.79,213.45 Z" fill="#f00" stroke="#f00" stroke-width="1.25" stroke-linejoin="miter"/>
<path d="M109.02,214.73 L111.47,219.63 L106.57,219.63 Z" fill="#f00" stroke="#f00" stroke-width="1.25" stroke-linejoin="miter"/>
<path d="M108.18,219.55 L110.63,224.45 L105.73,224.45 Z" fill="#f00" stroke="#f00" stroke-width="1.25" stroke-linejoin="miter"/>
<path d="M107.51,223.60 L109.96,228.50 L105.06,228.50 Z" fill="#f00" stroke="#f00" stroke-width="1.25" stroke-linejoin="miter"/>
<path d="M107.01,226.79 L109.46,231.69 L104.56,231.69 Z" fill="#f00" stroke="#f00" stroke-width="1.25" stroke-linejoin="miter"/>
<path d="M106.62,229.38 L109.07,234.28 L104.17,234.28 Z" fill="#f00" stroke="#f00" stroke-width="1.25" stroke-linejoin="miter"/>
<path d="M106.31,231.51 L108.76,236.41 L103.86,236.41 Z" fill="#f00" stroke="#f00" stroke-width="1.25" stroke-linejoin="miter"/>
<path d="M106.13,233.12 L108.58,238.02 L103.68,238.02 Z" fill="#f00" stroke="#f00" stroke-width="1.25" stroke-linejoin="miter"/>
<path d="M105.92,234.48 L108.37,239.38 L103.47,239.38 Z" fill="#f00" stroke="#f00" stroke-width="1.25" stroke-linejoin="miter"/>
<path d="M105.73,235.59 L108.18,240.49 L103.28,240.49 Z" fill="#f00" stroke="#f00" stroke-width="1.25" stroke-linejoin="miter"/>
<path d="M105.59,236.49 L108.04,241.39 L103.14,241.39 Z" fill="#f00" stroke="#f00" stroke-width="1.25" stroke-linejoin="miter"/>
<path d="M105.45,237.20 L107.90,242.10 L103.00,242.10 Z" fill="#f00" stroke="#f00" stroke-width="1.25" stroke-linejoin="miter"/>
<path d="M105.39,237.72 L107.84,242.62 L102.94,242.62 Z" fill="#f00" stroke="#f00" stroke-width="1.25" stroke-linejoin="miter"/>
<path d="M105.34,238.15 L107.79,243.05 L102.89,243.05 Z" fill="#f00" stroke="#f00" stroke-width="1.25" stroke-linejoin="miter"/>
<path d="M105.25,238.49 L107.70,243.39 L102.80,243.39 Z" fill="#f00" stroke="#f00" stroke-width="1.25" stroke-linejoin="miter"/>
<path d="M105.16,238.77 L107.61,243.67 L102.71,243.67 Z" fill="#f00" stroke="#f00" stroke-width="1.25" stroke-linejoin="miter"/>
<path d="M105.09,239.00 L107.54,243.90 L102.64,243.90 Z" fill="#f00" stroke="#f00" stroke-width="1.25" stroke-linejoin="miter"/>
<path d="M105.01,239.18 L107.46,244.08 L102.56,244.08 Z" fill="#f00" stroke="#f00" stroke-width="1.25" stroke-linejoin="miter"/>
<path d="M104.94,239.33 L107.39,244.23 L102.49,244.23 Z" fill="#f00" stroke="#f00" stroke-width="1.25" stroke-linejoin="miter"/>
<path d="M104.88,239.45 L107.33,244.35 L102.43,244.35 Z" fill="#f00" stroke="#f00" stroke-width="1.25" stroke-linejoin="miter"/>
<path d="M104.83,239.55 L107.28,244.45 L102.38,244.45 Z" fill="#f00" stroke="#f00" stroke-width="1.25" stroke-linejoin="miter"/>
<path d="M104.76,239.64 L107.21,244.54 L102.31,244.54 Z" fill="#f00" stroke="#f00" stroke-width="1.25" stroke-linejoin="miter"/>
<path d="M104.71,239.72 L107.16,244.62 L102.26,244.62 Z" fill="#f00" stroke="#f00" stroke-width="1.25" stroke-linejoin="miter"/>
<path d="M104.66,239.79 L107.11,244.69 L102.21,244.69 Z" fill="#f00" stroke="#f00" stroke-width="1.25" stroke-linejoin="miter"/>
<path d="M104.61,239.85 L107.06,244.75 L102.16,244.75 Z" fill="#f00" stroke="#f00" stroke-width="1.25" stroke-linejoin="miter"/>
<path d="M104.57,239.91 L107.02,244.81 L102.12,244.81 Z" fill="#f00" stroke="#f00" stroke-width="1.25" stroke-linejoin="miter"/>
<path d="M104.53,239.96 L106.98,244.86 L102.08,244.86 Z" fill="#f00" stroke="#f00" stroke-width="1.25" stroke-linejoin="miter"/>
<path d="M104.49,240.00 L106.94,244.90 L102.04,244.90 Z" fill="#f00" stroke="#f00" stroke-width="1.25" stroke-linejoin="miter"/>
<path d="M104.46,240.03 L106.91,244.93 L102.01,244.93 Z" fill="#f00" stroke="#f00" stroke-width="1.25" stroke-linejoin="miter"/>
<path d="M104.44,240.07 L106.89,244.97 L101.99,244.97 Z" fill="#f00" stroke="#f00" stroke-width="1.25" stroke-linejoin="miter"/>
<path d="M104.42,240.09 L106.87,244.99 L101.97,244.99 Z" fill="#f00" stroke="#f00" stroke-width="1.25" stroke-linejoin="miter"/>
</g>
<rect x="102.10" y="30.30" width="226.00" height="212.40" fill="none" stroke="#000" stroke-width="1.8"/>
<text transform="translate(102.10,270.00) scale(1,1.075)" text-anchor="middle" font-size="22" font-family='"Liberation Serif", "DejaVu Serif", serif' >0</text>
<text transform="translate(243.35,270.00) scale(1,1.075)" text-anchor="middle" font-size="22" font-family='"Liberation Serif", "DejaVu Serif", serif' >5</text>
<line x1="89.40" y1="980.00" x2="89.40" y2="971.00" stroke="#000" stroke-width="1.2"/>
<line x1="89.40" y1="592.00" x2="89.40" y2="601.00" stroke="#000" stroke-width="1.2"/>
<line x1="115.24" y1="980.00" x2="115.24" y2="975.40" stroke="#000" stroke-width="1.2"/>
<line x1="115.24" y1="592.00" x2="115.24" y2="596.60" stroke="#000" stroke-width="1.2"/>
<line x1="130.36" y1="980.00" x2="130.36" y2="975.40" stroke="#000" stroke-width="1.2"/>
<line x1="130.36" y1="592.00" x2="130.36" y2="596.60" stroke="#000" stroke-width="1.2"/>
<line x1="141.09" y1="980.00" x2="141.09" y2="975.40" stroke="#000" stroke-width="1.2"/>
<line x1="141.09" y1="592.00" x2="141.09" y2="596.60" stroke="#000" stroke-width="1.2"/>
<line x1="149.41" y1="980.00" x2="149.41" y2="975.40" stroke="#000" stroke-width="1.2"/>
<line x1="149.41" y1="592.00" x2="149.41" y2="596.60" stroke="#000" stroke-width="1.2"/>
<line x1="156.20" y1="980.00" x2="156.20" y2="975.40" stroke="#000" stroke-width="1.2"/>
<line x1="156.20" y1="592.00" x2="156.20" y2="596.60" stroke="#000" stroke-width="1.2"/>
<line x1="161.95" y1="980.00" x2="161.95" y2="975.40" stroke="#000" stroke-width="1.2"/>
<line x1="161.95" y1="592.00" x2="161.95" y2="596.60" stroke="#000" stroke-width="1.2"/>
<line x1="166.93" y1="980.00" x2="166.93" y2="975.40" stroke="#000" stroke-width="1.2"/>
<line x1="166.93" y1="592.00" x2="166.93" y2="596.60" stroke="#000" stroke-width="1.2"/>
<line x1="171.32" y1="980.00" x2="171.32" y2="975.40" stroke="#000" stroke-width="1.2"/>
<line x1="171.32" y1="592.00" x2="171.32" y2="596.60" stroke="#000" stroke-width="1.2"/>
<line x1="175.25" y1="980.00" x2="175.25" y2="971.00" stroke="#000" stroke-width="1.2"/>
<line x1="175.25" y1="592.00" x2="175.25" y2="601.00" stroke="#000" stroke-width="1.2"/>
<line x1="201.09" y1="980.00" x2="201.09" y2="975.40" stroke="#000" stroke-width="1.2"/>
<line x1="201.09" y1="592.00" x2="201.09" y2="596.60" stroke="#000" stroke-width="1.2"/>
<line x1="216.21" y1="980.00" x2="216.21" y2="975.40" stroke="#000" stroke-width="1.2"/>
<line x1="216.21" y1="592.00" x2="216.21" y2="596.60" stroke="#000" stroke-width="1.2"/>
<line x1="226.94" y1="980.00" x2="226.94" y2="975.40" stroke="#000" stroke-width="1.2"/>
<line x1="226.94" y1="592.00" x2="226.94" y2="596.60" stroke="#000" stroke-width="1.2"/>
<line x1="235.26" y1="980.00" x2="235.26" y2="975.40" stroke="#000" stroke-width="1.2"/>
<line x1="235.26" y1="592.00" x2="235.26" y2="596.60" stroke="#000" stroke-width="1.2"/>
<line x1="242.05" y1="980.00" x2="242.05" y2="975.40" stroke="#000" stroke-width="1.2"/>
<line x1="242.05" y1="592.00" x2="242.05" y2="596.60" stroke="#000" stroke-width="1.2"/>
<line x1="247.80" y1="980.00" x2="247.80" y2="975.40" stroke="#000" stroke-width="1.2"/>
<line x1="247.80" y1="592.00" x2="247.80" y2="596.60" stroke="#000" stroke-width="1.2"/>
<line x1="252.78" y1="980.00" x2="252.78" y2="975.40" stroke="#000" stroke-width="1.2"/>
<line x1="252.78" y1="592.00" x2="252.78" y2="596.60" stroke="#000" stroke-width="1.2"/>
<line x1="257.17" y1="980.00" x2="257.17" y2="975.40" stroke="#000" stroke-width="1.2"/>
<line x1="257.17" y1="592.00" x2="257.17" y2="596.60" stroke="#000" stroke-width="1.2"/>
<line x1="261.10" y1="980.00" x2="261.10" y2="971.00" stroke="#000" stroke-width="1.2"/>
<line x1="261.10" y1="592.00" x2="261.10" y2="601.00" stroke="#000" stroke-width="1.2"/>
<line x1="286.94" y1="980.00" x2="286.94" y2="975.40" stroke="#000" stroke-width="1.2"/>
<line x1="286.94" y1="592.00" x2="286.94" y2="596.60" stroke="#000" stroke-width="1.2"/>
<line x1="302.06" y1="980.00" x2="302.06" y2="975.40" stroke="#000" stroke-width="1.2"/>
<line x1="302.06" y1="592.00" x2="302.06" y2="596.60" stroke="#000" stroke-width="1.2"/>
<line x1="312.79" y1="980.00" x2="312.79" y2="975.40" stroke="#000" stroke-width="1.2"/>
<line x1="312.79" y1="592.00" x2="312.79" y2="596.60" stroke="#000" stroke-width="1.2"/>
<line x1="321.11" y1="980.00" x2="321.11" y2="975.40" stroke="#000" stroke-width="1.2"/>
<line x1="321.11" y1="592.00" x2="321.11" y2="596.60" stroke="#000" stroke-width="1.2"/>
<line x1="327.90" y1="980.00" x2="327.90" y2="975.40" stroke="#000" stroke-width="1.2"/>
<line x1="327.90" y1="592.00" x2="327.90" y2="596.60" stroke="#000" stroke-width="1.2"/>
<line x1="333.65" y1="980.00" x2="333.65" y2="975.40" stroke="#000" stroke-width="1.2"/>
<line x1="333.65" y1="592.00" x2="333.65" y2="596.60" stroke="#000" stroke-width="1.2"/>
<line x1="338.63" y1="980.00" x2="338.63" y2="975.40" stroke="#000" stroke-width="1.2"/>
<line x1="338.63" y1="592.00" x2="338.63" y2="596.60" stroke="#000" stroke-width="1.2"/>
<line x1="343.02" y1="980.00" x2="343.02" y2="975.40" stroke="#000" stroke-width="1.2"/>
<line x1="343.02" y1="592.00" x2="343.02" y2="596.60" stroke="#000" stroke-width="1.2"/>
<line x1="346.95" y1="980.00" x2="346.95" y2="971.00" stroke="#000" stroke-width="1.2"/>
<line x1="346.95" y1="592.00" x2="346.95" y2="601.00" stroke="#000" stroke-width="1.2"/>
<line x1="372.79" y1="980.00" x2="372.79" y2="975.40" stroke="#000" stroke-width="1.2"/>
<line x1="372.79" y1="592.00" x2="372.79" y2="596.60" stroke="#000" stroke-width="1.2"/>
<line x1="387.91" y1="980.00" x2="387.91" y2="975.40" stroke="#000" stroke-width="1.2"/>
<line x1="387.91" y1="592.00" x2="387.91" y2="596.60" stroke="#000" stroke-width="1.2"/>
<line x1="398.64" y1="980.00" x2="398.64" y2="975.40" stroke="#000" stroke-width="1.2"/>
<line x1="398.64" y1="592.00" x2="398.64" y2="596.60" stroke="#000" stroke-width="1.2"/>
<line x1="406.96" y1="980.00" x2="406.96" y2="975.40" stroke="#000" stroke-width="1.2"/>
<line x1="406.96" y1="592.00" x2="406.96" y2="596.60" stroke="#000" stroke-width="1.2"/>
<line x1="413.75" y1="980.00" x2="413.75" y2="975.40" stroke="#000" stroke-width="1.2"/>
<line x1="413.75" y1="592.00" x2="413.75" y2="596.60" stroke="#000" stroke-width="1.2"/>
<line x1="419.50" y1="980.00" x2="419.50" y2="975.40" stroke="#000" stroke-width="1.2"/>
<line x1="419.50" y1="592.00" x2="419.50" y2="596.60" stroke="#000" stroke-width="1.2"/>
<line x1="424.48" y1="980.00" x2="424.48" y2="975.40" stroke="#000" stroke-width="1.2"/>
<line x1="424.48" y1="592.00" x2="424.48" y2="596.60" stroke="#000" stroke-width="1.2"/>
<line x1="428.87" y1="980.00" x2="428.87" y2="975.40" stroke="#000" stroke-width="1.2"/>
<line x1="428.87" y1="592.00" x2="428.87" y2="596.60" stroke="#000" stroke-width="1.2"/>
<line x1="432.80" y1="980.00" x2="432.80" y2="971.00" stroke="#000" stroke-width="1.2"/>
<line x1="432.80" y1="592.00" x2="432.80" y2="601.00" stroke="#000" stroke-width="1.2"/>
<line x1="458.64" y1="980.00" x2="458.64" y2="975.40" stroke="#000" stroke-width="1.2"/>
<line x1="458.64" y1="592.00" x2="458.64" y2="596.60" stroke="#000" stroke-width="1.2"/>
<line x1="473.76" y1="980.00" x2="473.76" y2="975.40" stroke="#000" stroke-width="1.2"/>
<line x1="473.76" y1="592.00" x2="473.76" y2="596.60" stroke="#000" stroke-width="1.2"/>
<line x1="484.49" y1="980.00" x2="484.49" y2="975.40" stroke="#000" stroke-width="1.2"/>
<line x1="484.49" y1="592.00" x2="484.49" y2="596.60" stroke="#000" stroke-width="1.2"/>
<line x1="492.81" y1="980.00" x2="492.81" y2="975.40" stroke="#000" stroke-width="1.2"/>
<line x1="492.81" y1="592.00" x2="492.81" y2="596.60" stroke="#000" stroke-width="1.2"/>
<line x1="499.60" y1="980.00" x2="499.60" y2="975.40" stroke="#000" stroke-width="1.2"/>
<line x1="499.60" y1="592.00" x2="499.60" y2="596.60" stroke="#000" stroke-width="1.2"/>
<line x1="505.35" y1="980.00" x2="505.35" y2="975.40" stroke="#000" stroke-width="1.2"/>
<line x1="505.35" y1="592.00" x2="505.35" y2="596.60" stroke="#000" stroke-width="1.2"/>
<line x1="510.33" y1="980.00" x2="510.33" y2="975.40" stroke="#000" stroke-width="1.2"/>
<line x1="510.33" y1="592.00" x2="510.33" y2="596.60" stroke="#000" stroke-width="1.2"/>
<line x1="514.72" y1="980.00" x2="514.72" y2="975.40" stroke="#000" stroke-width="1.2"/>
<line x1="514.72" y1="592.00" x2="514.72" y2="596.60" stroke="#000" stroke-width="1.2"/>
<line x1="518.65" y1="980.00" x2="518.65" y2="971.00" stroke="#000" stroke-width="1.2"/>
<line x1="518.65" y1="592.00" x2="518.65" y2="601.00" stroke="#000" stroke-width="1.2"/>
<line x1="544.49" y1="980.00" x2="544.49" y2="975.40" stroke="#000" stroke-width="1.2"/>
<line x1="544.49" y1="592.00" x2="544.49" y2="596.60" stroke="#000" stroke-width="1.2"/>
<line x1="559.61" y1="980.00" x2="559.61" y2="975.40" stroke="#000" stroke-width="1.2"/>
<line x1="559.61" y1="592.00" x2="559.61" y2="596.60" stroke="#000" stroke-width="1.2"/>
<line x1="570.34" y1="980.00" x2="570.34" y2="975.40" stroke="#000" stroke-width="1.2"/>
<line x1="570.34" y1="592.00" x2="570.34" y2="596.60" stroke="#000" stroke-width="1.2"/>
<line x1="578.66" y1="980.00" x2="578.66" y2="975.40" stroke="#000" stroke-width="1.2"/>
<line x1="578.66" y1="592.00" x2="578.66" y2="596.60" stroke="#000" stroke-width="1.2"/>
<line x1="585.45" y1="980.00" x2="585.45" y2="975.40" stroke="#000" stroke-width="1.2"/>
<line x1="585.45" y1="592.00" x2="585.45" y2="596.60" stroke="#000" stroke-width="1.2"/>
<line x1="591.20" y1="980.00" x2="591.20" y2="975.40" stroke="#000" stroke-width="1.2"/>
<line x1="591.20" y1="592.00" x2="591.20" y2="596.60" stroke="#000" stroke-width="1.2"/>
<line x1="596.18" y1="980.00" x2="596.18" y2="975.40" stroke="#000" stroke-width="1.2"/>
<line x1="596.18" y1="592.00" x2="596.18" y2="596.60" stroke="#000" stroke-width="1.2"/>
<line x1="600.57" y1="980.00" x2="600.57" y2="975.40" stroke="#000" stroke-width="1.2"/>
<line x1="600.57" y1="592.00" x2="600.57" y2="596.60" stroke="#000" stroke-width="1.2"/>
<line x1="604.50" y1="980.00" x2="604.50" y2="971.00" stroke="#000" stroke-width="1.2"/>
<line x1="604.50" y1="592.00" x2="604.50" y2="601.00" stroke="#000" stroke-width="1.2"/>
<line x1="89.40" y1="980.00" x2="94.00" y2="980.00" stroke="#000" stroke-width="1.2"/>
<line x1="89.40" y1="970.69" x2="94.00" y2="970.69" stroke="#000" stroke-width="1.2"/>
<line x1="89.40" y1="962.82" x2="94.00" y2="962.82" stroke="#000" stroke-width="1.2"/>
<line x1="89.40" y1="956.01" x2="94.00" y2="956.01" stroke="#000" stroke-width="1.2"/>
<line x1="89.40" y1="950.00" x2="94.00" y2="950.00" stroke="#000" stroke-width="1.2"/>
<line x1="89.40" y1="944.62" x2="98.40" y2="944.62" stroke="#000" stroke-width="1.2"/>
<line x1="89.40" y1="909.23" x2="94.00" y2="909.23" stroke="#000" stroke-width="1.2"/>
<line x1="89.40" y1="888.54" x2="94.00" y2="888.54" stroke="#000" stroke-width="1.2"/>
<line x1="89.40" y1="873.85" x2="94.00" y2="873.85" stroke="#000" stroke-width="1.2"/>
<line x1="89.40" y1="862.46" x2="94.00" y2="862.46" stroke="#000" stroke-width="1.2"/>
<line x1="89.40" y1="853.15" x2="94.00" y2="853.15" stroke="#000" stroke-width="1.2"/>
<line x1="89.40" y1="845.29" x2="94.00" y2="845.29" stroke="#000" stroke-width="1.2"/>
<line x1="89.40" y1="838.47" x2="94.00" y2="838.47" stroke="#000" stroke-width="1.2"/>
<line x1="89.40" y1="832.46" x2="94.00" y2="832.46" stroke="#000" stroke-width="1.2"/>
<line x1="89.40" y1="827.08" x2="98.40" y2="827.08" stroke="#000" stroke-width="1.2"/>
<line x1="89.40" y1="791.70" x2="94.00" y2="791.70" stroke="#000" stroke-width="1.2"/>
<line x1="89.40" y1="771.00" x2="94.00" y2="771.00" stroke="#000" stroke-width="1.2"/>
<line x1="89.40" y1="756.31" x2="94.00" y2="756.31" stroke="#000" stroke-width="1.2"/>
<line x1="89.40" y1="744.92" x2="94.00" y2="744.92" stroke="#000" stroke-width="1.2"/>
<line x1="89.40" y1="735.61" x2="94.00" y2="735.61" stroke="#000" stroke-width="1.2"/>
<line x1="89.40" y1="727.75" x2="94.00" y2="727.75" stroke="#000" stroke-width="1.2"/>
<line x1="89.40" y1="720.93" x2="94.00" y2="720.93" stroke="#000" stroke-width="1.2"/>
<line x1="89.40" y1="714.92" x2="94.00" y2="714.92" stroke="#000" stroke-width="1.2"/>
<line x1="89.40" y1="709.54" x2="98.40" y2="709.54" stroke="#000" stroke-width="1.2"/>
<line x1="89.40" y1="674.16" x2="94.00" y2="674.16" stroke="#000" stroke-width="1.2"/>
<line x1="89.40" y1="653.46" x2="94.00" y2="653.46" stroke="#000" stroke-width="1.2"/>
<line x1="89.40" y1="638.77" x2="94.00" y2="638.77" stroke="#000" stroke-width="1.2"/>
<line x1="89.40" y1="627.38" x2="94.00" y2="627.38" stroke="#000" stroke-width="1.2"/>
<line x1="89.40" y1="618.08" x2="94.00" y2="618.08" stroke="#000" stroke-width="1.2"/>
<line x1="89.40" y1="610.21" x2="94.00" y2="610.21" stroke="#000" stroke-width="1.2"/>
<line x1="89.40" y1="603.39" x2="94.00" y2="603.39" stroke="#000" stroke-width="1.2"/>
<line x1="89.40" y1="597.38" x2="94.00" y2="597.38" stroke="#000" stroke-width="1.2"/>
<line x1="89.40" y1="592.00" x2="98.40" y2="592.00" stroke="#000" stroke-width="1.2"/>
<line x1="604.50" y1="592.00" x2="595.50" y2="592.00" stroke="#000" stroke-width="1.2"/>
<line x1="604.50" y1="601.70" x2="599.90" y2="601.70" stroke="#000" stroke-width="1.2"/>
<line x1="604.50" y1="611.40" x2="599.90" y2="611.40" stroke="#000" stroke-width="1.2"/>
<line x1="604.50" y1="621.10" x2="599.90" y2="621.10" stroke="#000" stroke-width="1.2"/>
<line x1="604.50" y1="630.80" x2="599.90" y2="630.80" stroke="#000" stroke-width="1.2"/>
<line x1="604.50" y1="640.50" x2="595.50" y2="640.50" stroke="#000" stroke-width="1.2"/>
<line x1="604.50" y1="650.20" x2="599.90" y2="650.20" stroke="#000" stroke-width="1.2"/>
<line x1="604.50" y1="659.90" x2="599.90" y2="659.90" stroke="#000" stroke-width="1.2"/>
<line x1="604.50" y1="669.60" x2="599.90" y2="669.60" stroke="#000" stroke-width="1.2"/>
<line x1="604.50" y1="679.30" x2="599.90" y2="679.30" stroke="#000" stroke-width="1.2"/>
<line x1="604.50" y1="689.00" x2="595.50" y2="689.00" stroke="#000" stroke-width="1.2"/>
<line x1="604.50" y1="698.70" x2="599.90" y2="698.70" stroke="#000" stroke-width="1.2"/>
<line x1="604.50" y1="708.40" x2="599.90" y2="708.40" stroke="#000" stroke-width="1.2"/>
<line x1="604.50" y1="718.10" x2="599.90" y2="718.10" stroke="#000" stroke-width="1.2"/>
<line x1="604.50" y1="727.80" x2="599.90" y2="727.80" stroke="#000" stroke-width="1.2"/>
<line x1="604.50" y1="737.50" x2="595.50" y2="737.50" stroke="#000" stroke-width="1.2"/>
<line x1="604.50" y1="747.20" x2="599.90" y2="747.20" stroke="#000" stroke-width="1.2"/>
<line x1="604.50" y1="756.90" x2="599.90" y2="756.90" stroke="#000" stroke-width="1.2"/>
<line x1="604.50" y1="766.60" x2="599.90" y2="766.60" stroke="#000" stroke-width="1.2"/>
<line x1="604.50" y1="776.30" x2="599.90" y2="776.30" stroke="#000" stroke-width="1.2"/>
<line x1="604.50" y1="786.00" x2="595.50" y2="786.00" stroke="#000" stroke-width="1.2"/>
<line x1="604.50" y1="795.70" x2="599.90" y2="795.70" stroke="#000" stroke-width="1.2"/>
<line x1="604.50" y1="805.40" x2="599.90" y2="805.40" stroke="#000" stroke-width="1.2"/>
<line x1="604.50" y1="815.10" x2="599.90" y2="815.10" stroke="#000" stroke-width="1.2"/>
<line x1="604.50" y1="824.80" x2="599.90" y2="824.80" stroke="#000" stroke-width="1.2"/>
<line x1="604.50" y1="834.50" x2="595.50" y2="834.50" stroke="#000" stroke-width="1.2"/>
<line x1="604.50" y1="844.20" x2="599.90" y2="844.20" stroke="#000" stroke-width="1.2"/>
<line x1="604.50" y1="853.90" x2="599.90" y2="853.90" stroke="#000" stroke-width="1.2"/>
<line x1="604.50" y1="863.60" x2="599.90" y2="863.60" stroke="#000" stroke-width="1.2"/>
<line x1="604.50" y1="873.30" x2="599.90" y2="873.30" stroke="#000" stroke-width="1.2"/>
<line x1="604.50" y1="883.00" x2="595.50" y2="883.00" stroke="#000" stroke-width="1.2"/>
<line x1="604.50" y1="892.70" x2="599.90" y2="892.70" stroke="#000" stroke-width="1.2"/>
<line x1="604.50" y1="902.40" x2="599.90" y2="902.40" stroke="#000" stroke-width="1.2"/>
<line x1="604.50" y1="912.10" x2="599.90" y2="912.10" stroke="#000" stroke-width="1.2"/>
<line x1="604.50" y1="921.80" x2="599.90" y2="921.80" stroke="#000" stroke-width="1.2"/>
<line x1="604.50" y1="931.50" x2="595.50" y2="931.50" stroke="#000" stroke-width="1.2"/>
<line x1="604.50" y1="941.20" x2="599.90" y2="941.20" stroke="#000" stroke-width="1.2"/>
<line x1="604.50" y1="950.90" x2="599.90" y2="950.90" stroke="#000" stroke-width="1.2"/>
<line x1="604.50" y1="960.60" x2="599.90" y2="960.60" stroke="#000" stroke-width="1.2"/>
<line x1="604.50" y1="970.30" x2="599.90" y2="970.30" stroke="#000" stroke-width="1.2"/>
<line x1="604.50" y1="980.00" x2="595.50" y2="980.00" stroke="#000" stroke-width="1.2"/>
<g clip-path="url(#cb)">
<path d="M89.45,598.85 L92.45,604.85 L86.45,604.85 Z" fill="#f00" stroke="#f00" stroke-width="1.5" stroke-linejoin="miter"/>
<path d="M98.17,604.35 L101.17,610.35 L95.17,610.35 Z" fill="#f00" stroke="#f00" stroke-width="1.5" stroke-linejoin="miter"/>
<path d="M106.90,610.05 L109.90,616.05 L103.90,616.05 Z" fill="#f00" stroke="#f00" stroke-width="1.5" stroke-linejoin="miter"/>
<path d="M115.62,615.25 L118.62,621.25 L112.62,621.25 Z" fill="#f00" stroke="#f00" stroke-width="1.5" stroke-linejoin="miter"/>
<path d="M124.34,619.65 L127.34,625.65 L121.34,625.65 Z" fill="#f00" stroke="#f00" stroke-width="1.5" stroke-linejoin="miter"/>
<path d="M133.06,623.55 L136.06,629.55 L130.06,629.55 Z" fill="#f00" stroke="#f00" stroke-width="1.5" stroke-linejoin="miter"/>
<path d="M141.79,628.35 L144.79,634.35 L138.79,634.35 Z" fill="#f00" stroke="#f00" stroke-width="1.5" stroke-linejoin="miter"/>
<path d="M150.51,632.35 L153.51,638.35 L147.51,638.35 Z" fill="#f00" stroke="#f00" stroke-width="1.5" stroke-linejoin="miter"/>
<path d="M159.23,636.05 L162.23,642.05 L156.23,642.05 Z" fill="#f00" stroke="#f00" stroke-width="1.5" stroke-linejoin="miter"/>
<path d="M167.96,640.65 L170.96,646.65 L164.96,646.65 Z" fill="#f00" stroke="#f00" stroke-width="1.5" stroke-linejoin="miter"/>
<path d="M176.68,645.95 L179.68,651.95 L173.68,651.95 Z" fill="#f00" stroke="#f00" stroke-width="1.5" stroke-linejoin="miter"/>
<path d="M185.40,651.35 L188.40,657.35 L182.40,657.35 Z" fill="#f00" stroke="#f00" stroke-width="1.5" stroke-linejoin="miter"/>
<path d="M194.12,657.05 L197.12,663.05 L191.12,663.05 Z" fill="#f00" stroke="#f00" stroke-width="1.5" stroke-linejoin="miter"/>
<path d="M202.85,662.95 L205.85,668.95 L199.85,668.95 Z" fill="#f00" stroke="#f00" stroke-width="1.5" stroke-linejoin="miter"/>
<path d="M211.57,669.15 L214.57,675.15 L208.57,675.15 Z" fill="#f00" stroke="#f00" stroke-width="1.5" stroke-linejoin="miter"/>
<path d="M220.29,675.45 L223.29,681.45 L217.29,681.45 Z" fill="#f00" stroke="#f00" stroke-width="1.5" stroke-linejoin="miter"/>
<path d="M229.02,682.65 L232.02,688.65 L226.02,688.65 Z" fill="#f00" stroke="#f00" stroke-width="1.5" stroke-linejoin="miter"/>
<path d="M237.74,690.25 L240.74,696.25 L234.74,696.25 Z" fill="#f00" stroke="#f00" stroke-width="1.5" stroke-linejoin="miter"/>
<path d="M246.46,698.65 L249.46,704.65 L243.46,704.65 Z" fill="#f00" stroke="#f00" stroke-width="1.5" stroke-linejoin="miter"/>
<path d="M255.18,707.85 L258.18,713.85 L252.18,713.85 Z" fill="#f00" stroke="#f00" stroke-width="1.5" stroke-linejoin="miter"/>
<path d="M263.91,717.25 L266.91,723.25 L260.91,723.25 Z" fill="#f00" stroke="#f00" stroke-width="1.5" stroke-linejoin="miter"/>
<path d="M272.63,727.55 L275.63,733.55 L269.63,733.55 Z" fill="#f00" stroke="#f00" stroke-width="1.5" stroke-linejoin="miter"/>
<path d="M281.35,738.05 L284.35,744.05 L278.35,744.05 Z" fill="#f00" stroke="#f00" stroke-width="1.5" stroke-linejoin="miter"/>
<path d="M290.08,748.55 L293.08,754.55 L287.08,754.55 Z" fill="#f00" stroke="#f00" stroke-width="1.5" stroke-linejoin="miter"/>
<path d="M298.80,759.25 L301.80,765.25 L295.80,765.25 Z" fill="#f00" stroke="#f00" stroke-width="1.5" stroke-linejoin="miter"/>
<path d="M307.52,769.95 L310.52,775.95 L304.52,775.95 Z" fill="#f00" stroke="#f00" stroke-width="1.5" stroke-linejoin="miter"/>
<path d="M316.24,781.15 L319.24,787.15 L313.24,787.15 Z" fill="#f00" stroke="#f00" stroke-width="1.5" stroke-linejoin="miter"/>
<path d="M324.97,791.65 L327.97,797.65 L321.97,797.65 Z" fill="#f00" stroke="#f00" stroke-width="1.5" stroke-linejoin="miter"/>
<path d="M333.69,802.55 L336.69,808.55 L330.69,808.55 Z" fill="#f00" stroke="#f00" stroke-width="1.5" stroke-linejoin="miter"/>
<path d="M342.41,813.45 L345.41,819.45 L339.41,819.45 Z" fill="#f00" stroke="#f00" stroke-width="1.5" stroke-linejoin="miter"/>
<path d="M351.14,824.35 L354.14,830.35 L348.14,830.35 Z" fill="#f00" stroke="#f00" stroke-width="1.5" stroke-linejoin="miter"/>
<path d="M359.86,834.75 L362.86,840.75 L356.86,840.75 Z" fill="#f00" stroke="#f00" stroke-width="1.5" stroke-linejoin="miter"/>
<path d="M368.58,845.45 L371.58,851.45 L365.58,851.45 Z" fill="#f00" stroke="#f00" stroke-width="1.5" stroke-linejoin="miter"/>
<path d="M377.31,855.75 L380.31,861.75 L374.31,861.75 Z" fill="#f00" stroke="#f00" stroke-width="1.5" stroke-linejoin="miter"/>
<path d="M386.03,865.85 L389.03,871.85 L383.03,871.85 Z" fill="#f00" stroke="#f00" stroke-width="1.5" stroke-linejoin="miter"/>
<path d="M394.75,875.85 L397.75,881.85 L391.75,881.85 Z" fill="#f00" stroke="#f00" stroke-width="1.5" stroke-linejoin="miter"/>
<path d="M403.47,884.65 L406.47,890.65 L400.47,890.65 Z" fill="#f00" stroke="#f00" stroke-width="1.5" stroke-linejoin="miter"/>
<path d="M412.20,893.45 L415.20,899.45 L409.20,899.45 Z" fill="#f00" stroke="#f00" stroke-width="1.5" stroke-linejoin="miter"/>
<path d="M420.92,901.75 L423.92,907.75 L417.92,907.75 Z" fill="#f00" stroke="#f00" stroke-width="1.5" stroke-linejoin="miter"/>
<path d="M429.64,909.15 L432.64,915.15 L426.64,915.15 Z" fill="#f00" stroke="#f00" stroke-width="1.5" stroke-linejoin="miter"/>
<path d="M438.37,915.75 L441.37,921.75 L435.37,921.75 Z" fill="#f00" stroke="#f00" stroke-width="1.5" stroke-linejoin="miter"/>
<path d="M447.09,920.45 L450.09,926.45 L444.09,926.45 Z" fill="#f00" stroke="#f00" stroke-width="1.5" stroke-linejoin="miter"/>
<path d="M455.81,924.45 L458.81,930.45 L452.81,930.45 Z" fill="#f00" stroke="#f00" stroke-width="1.5" stroke-linejoin="miter"/>
<path d="M464.53,928.15 L467.53,934.15 L461.53,934.15 Z" fill="#f00" stroke="#f00" stroke-width="1.5" stroke-linejoin="miter"/>
<path d="M473.26,931.25 L476.26,937.25 L470.26,937.25 Z" fill="#f00" stroke="#f00" stroke-width="1.5" stroke-linejoin="miter"/>
<path d="M481.98,933.85 L484.98,939.85 L478.98,939.85 Z" fill="#f00" stroke="#f00" stroke-width="1.5" stroke-linejoin="miter"/>
<path d="M490.70,936.15 L493.70,942.15 L487.70,942.15 Z" fill="#f00" stroke="#f00" stroke-width="1.5" stroke-linejoin="miter"/>
<path d="M499.43,938.15 L502.43,944.15 L496.43,944.15 Z" fill="#f00" stroke="#f00" stroke-width="1.5" stroke-linejoin="miter"/>
<path d="M508.15,939.85 L511.15,945.85 L505.15,945.85 Z" fill="#f00" stroke="#f00" stroke-width="1.5" stroke-linejoin="miter"/>
<path d="M516.87,941.35 L519.87,947.35 L513.87,947.35 Z" fill="#f00" stroke="#f00" stroke-width="1.5" stroke-linejoin="miter"/>
<path d="M525.59,942.95 L528.59,948.95 L522.59,948.95 Z" fill="#f00" stroke="#f00" stroke-width="1.5" stroke-linejoin="miter"/>
<path d="M534.32,944.25 L537.32,950.25 L531.32,950.25 Z" fill="#f00" stroke="#f00" stroke-width="1.5" stroke-linejoin="miter"/>
<path d="M543.04,945.55 L546.04,951.55 L540.04,951.55 Z" fill="#f00" stroke="#f00" stroke-width="1.5" stroke-linejoin="miter"/>
<path d="M551.76,946.65 L554.76,952.65 L548.76,952.65 Z" fill="#f00" stroke="#f00" stroke-width="1.5" stroke-linejoin="miter"/>
<path d="M560.49,947.55 L563.49,953.55 L557.49,953.55 Z" fill="#f00" stroke="#f00" stroke-width="1.5" stroke-linejoin="miter"/>
<path d="M569.21,948.65 L572.21,954.65 L566.21,954.65 Z" fill="#f00" stroke="#f00" stroke-width="1.5" stroke-linejoin="miter"/>
<path d="M577.93,949.55 L580.93,955.55 L574.93,955.55 Z" fill="#f00" stroke="#f00" stroke-width="1.5" stroke-linejoin="miter"/>
<path d="M586.65,950.25 L589.65,956.25 L583.65,956.25 Z" fill="#f00" stroke="#f00" stroke-width="1.5" stroke-linejoin="miter"/>
<path d="M595.38,950.85 L598.38,956.85 L592.38,956.85 Z" fill="#f00" stroke="#f00" stroke-width="1.5" stroke-linejoin="miter"/>
<path d="M604.10,951.25 L607.10,957.25 L601.10,957.25 Z" fill="#f00" stroke="#f00" stroke-width="1.5" stroke-linejoin="miter"/>
<rect x="86.20" y="706.75" width="6.50" height="6.50" fill="#000" stroke="#000" stroke-width="1.5"/>
<rect x="94.92" y="712.55" width="6.50" height="6.50" fill="#000" stroke="#000" stroke-width="1.5"/>
<rect x="103.65" y="718.75" width="6.50" height="6.50" fill="#000" stroke="#000" stroke-width="1.5"/>
<rect x="112.37" y="723.75" width="6.50" height="6.50" fill="#000" stroke="#000" stroke-width="1.5"/>
<rect x="121.09" y="728.35" width="6.50" height="6.50" fill="#000" stroke="#000" stroke-width="1.5"/>
<rect x="129.81" y="732.25" width="6.50" height="6.50" fill="#000" stroke="#000" stroke-width="1.5"/>
<rect x="138.54" y="736.85" width="6.50" height="6.50" fill="#000" stroke="#000" stroke-width="1.5"/>
<rect x="147.26" y="740.55" width="6.50" height="6.50" fill="#000" stroke="#000" stroke-width="1.5"/>
<rect x="155.98" y="743.85" width="6.50" height="6.50" fill="#000" stroke="#000" stroke-width="1.5"/>
<rect x="164.71" y="746.95" width="6.50" height="6.50" fill="#000" stroke="#000" stroke-width="1.5"/>
<rect x="173.43" y="750.35" width="6.50" height="6.50" fill="#000" stroke="#000" stroke-width="1.5"/>
<rect x="182.15" y="753.65" width="6.50" height="6.50" fill="#000" stroke="#000" stroke-width="1.5"/>
<rect x="190.87" y="756.55" width="6.50" height="6.50" fill="#000" stroke="#000" stroke-width="1.5"/>
<rect x="199.60" y="759.55" width="6.50" height="6.50" fill="#000" stroke="#000" stroke-width="1.5"/>
<rect x="208.32" y="762.45" width="6.50" height="6.50" fill="#000" stroke="#000" stroke-width="1.5"/>
<rect x="217.04" y="765.75" width="6.50" height="6.50" fill="#000" stroke="#000" stroke-width="1.5"/>
<rect x="225.77" y="769.35" width="6.50" height="6.50" fill="#000" stroke="#000" stroke-width="1.5"/>
<rect x="234.49" y="773.95" width="6.50" height="6.50" fill="#000" stroke="#000" stroke-width="1.5"/>
<rect x="243.21" y="778.25" width="6.50" height="6.50" fill="#000" stroke="#000" stroke-width="1.5"/>
<rect x="251.93" y="783.75" width="6.50" height="6.50" fill="#000" stroke="#000" stroke-width="1.5"/>
<rect x="260.66" y="790.25" width="6.50" height="6.50" fill="#000" stroke="#000" stroke-width="1.5"/>
<rect x="269.38" y="797.55" width="6.50" height="6.50" fill="#000" stroke="#000" stroke-width="1.5"/>
<rect x="278.10" y="805.85" width="6.50" height="6.50" fill="#000" stroke="#000" stroke-width="1.5"/>
<rect x="286.83" y="814.25" width="6.50" height="6.50" fill="#000" stroke="#000" stroke-width="1.5"/>
<rect x="295.55" y="823.55" width="6.50" height="6.50" fill="#000" stroke="#000" stroke-width="1.5"/>
<rect x="304.27" y="833.15" width="6.50" height="6.50" fill="#000" stroke="#000" stroke-width="1.5"/>
<rect x="312.99" y="843.05" width="6.50" height="6.50" fill="#000" stroke="#000" stroke-width="1.5"/>
<rect x="321.72" y="852.45" width="6.50" height="6.50" fill="#000" stroke="#000" stroke-width="1.5"/>
<rect x="330.44" y="862.75" width="6.50" height="6.50" fill="#000" stroke="#000" stroke-width="1.5"/>
<rect x="339.16" y="872.55" width="6.50" height="6.50" fill="#000" stroke="#000" stroke-width="1.5"/>
<rect x="347.89" y="881.95" width="6.50" height="6.50" fill="#000" stroke="#000" stroke-width="1.5"/>
<rect x="356.61" y="891.65" width="6.50" height="6.50" fill="#000" stroke="#000" stroke-width="1.5"/>
<rect x="365.33" y="900.35" width="6.50" height="6.50" fill="#000" stroke="#000" stroke-width="1.5"/>
<rect x="374.06" y="908.75" width="6.50" height="6.50" fill="#000" stroke="#000" stroke-width="1.5"/>
<rect x="382.78" y="916.35" width="6.50" height="6.50" fill="#000" stroke="#000" stroke-width="1.5"/>
<rect x="391.50" y="922.75" width="6.50" height="6.50" fill="#000" stroke="#000" stroke-width="1.5"/>
<rect x="400.22" y="927.95" width="6.50" height="6.50" fill="#000" stroke="#000" stroke-width="1.5"/>
<rect x="408.95" y="932.35" width="6.50" height="6.50" fill="#000" stroke="#000" stroke-width="1.5"/>
<rect x="417.67" y="935.65" width="6.50" height="6.50" fill="#000" stroke="#000" stroke-width="1.5"/>
<rect x="426.39" y="938.25" width="6.50" height="6.50" fill="#000" stroke="#000" stroke-width="1.5"/>
<rect x="435.12" y="940.25" width="6.50" height="6.50" fill="#000" stroke="#000" stroke-width="1.5"/>
<rect x="443.84" y="941.55" width="6.50" height="6.50" fill="#000" stroke="#000" stroke-width="1.5"/>
<rect x="452.56" y="942.65" width="6.50" height="6.50" fill="#000" stroke="#000" stroke-width="1.5"/>
<rect x="461.28" y="943.55" width="6.50" height="6.50" fill="#000" stroke="#000" stroke-width="1.5"/>
<rect x="470.01" y="944.15" width="6.50" height="6.50" fill="#000" stroke="#000" stroke-width="1.5"/>
<rect x="478.73" y="944.85" width="6.50" height="6.50" fill="#000" stroke="#000" stroke-width="1.5"/>
<rect x="487.45" y="945.25" width="6.50" height="6.50" fill="#000" stroke="#000" stroke-width="1.5"/>
<rect x="496.18" y="945.75" width="6.50" height="6.50" fill="#000" stroke="#000" stroke-width="1.5"/>
<rect x="504.90" y="946.15" width="6.50" height="6.50" fill="#000" stroke="#000" stroke-width="1.5"/>
<rect x="513.62" y="946.55" width="6.50" height="6.50" fill="#000" stroke="#000" stroke-width="1.5"/>
<rect x="522.34" y="947.05" width="6.50" height="6.50" fill="#000" stroke="#000" stroke-width="1.5"/>
<rect x="531.07" y="947.25" width="6.50" height="6.50" fill="#000" stroke="#000" stroke-width="1.5"/>
<rect x="539.79" y="947.45" width="6.50" height="6.50" fill="#000" stroke="#000" stroke-width="1.5"/>
<rect x="548.51" y="947.65" width="6.50" height="6.50" fill="#000" stroke="#000" stroke-width="1.5"/>
<rect x="557.24" y="947.85" width="6.50" height="6.50" fill="#000" stroke="#000" stroke-width="1.5"/>
<rect x="565.96" y="948.15" width="6.50" height="6.50" fill="#000" stroke="#000" stroke-width="1.5"/>
<rect x="574.68" y="948.35" width="6.50" height="6.50" fill="#000" stroke="#000" stroke-width="1.5"/>
<rect x="583.40" y="948.55" width="6.50" height="6.50" fill="#000" stroke="#000" stroke-width="1.5"/>
<rect x="592.13" y="948.75" width="6.50" height="6.50" fill="#000" stroke="#000" stroke-width="1.5"/>
<rect x="600.85" y="949.05" width="6.50" height="6.50" fill="#000" stroke="#000" stroke-width="1.5"/>
</g>
<rect x="89.40" y="592.00" width="515.10" height="388.00" fill="none" stroke="#000" stroke-width="2.2"/>
<g clip-path="url(#cb)">
<rect x="86.25" y="797.50" width="6.40" height="6.40" fill="#fff" stroke="#000" stroke-width="1.6"/>
<rect x="94.97" y="787.00" width="6.40" height="6.40" fill="#fff" stroke="#000" stroke-width="1.6"/>
<rect x="103.70" y="776.70" width="6.40" height="6.40" fill="#fff" stroke="#000" stroke-width="1.6"/>
<rect x="112.42" y="768.00" width="6.40" height="6.40" fill="#fff" stroke="#000" stroke-width="1.6"/>
<rect x="121.14" y="759.20" width="6.40" height="6.40" fill="#fff" stroke="#000" stroke-width="1.6"/>
<rect x="129.86" y="750.90" width="6.40" height="6.40" fill="#fff" stroke="#000" stroke-width="1.6"/>
<rect x="138.59" y="743.40" width="6.40" height="6.40" fill="#fff" stroke="#000" stroke-width="1.6"/>
<rect x="147.31" y="737.60" width="6.40" height="6.40" fill="#fff" stroke="#000" stroke-width="1.6"/>
<rect x="156.03" y="733.90" width="6.40" height="6.40" fill="#fff" stroke="#000" stroke-width="1.6"/>
<rect x="164.76" y="730.70" width="6.40" height="6.40" fill="#fff" stroke="#000" stroke-width="1.6"/>
<rect x="173.48" y="728.30" width="6.40" height="6.40" fill="#fff" stroke="#000" stroke-width="1.6"/>
<rect x="182.20" y="727.50" width="6.40" height="6.40" fill="#fff" stroke="#000" stroke-width="1.6"/>
<rect x="190.92" y="728.80" width="6.40" height="6.40" fill="#fff" stroke="#000" stroke-width="1.6"/>
<rect x="199.65" y="732.50" width="6.40" height="6.40" fill="#fff" stroke="#000" stroke-width="1.6"/>
<rect x="208.37" y="738.40" width="6.40" height="6.40" fill="#fff" stroke="#000" stroke-width="1.6"/>
<rect x="217.09" y="747.30" width="6.40" height="6.40" fill="#fff" stroke="#000" stroke-width="1.6"/>
<rect x="225.82" y="760.40" width="6.40" height="6.40" fill="#fff" stroke="#000" stroke-width="1.6"/>
<rect x="234.54" y="776.40" width="6.40" height="6.40" fill="#fff" stroke="#000" stroke-width="1.6"/>
<rect x="243.26" y="794.10" width="6.40" height="6.40" fill="#fff" stroke="#000" stroke-width="1.6"/>
<rect x="251.98" y="812.40" width="6.40" height="6.40" fill="#fff" stroke="#000" stroke-width="1.6"/>
<rect x="260.71" y="831.00" width="6.40" height="6.40" fill="#fff" stroke="#000" stroke-width="1.6"/>
<rect x="269.43" y="849.20" width="6.40" height="6.40" fill="#fff" stroke="#000" stroke-width="1.6"/>
<rect x="278.15" y="864.80" width="6.40" height="6.40" fill="#fff" stroke="#000" stroke-width="1.6"/>
<rect x="286.88" y="878.80" width="6.40" height="6.40" fill="#fff" stroke="#000" stroke-width="1.6"/>
<rect x="295.60" y="889.30" width="6.40" height="6.40" fill="#fff" stroke="#000" stroke-width="1.6"/>
<rect x="304.32" y="896.90" width="6.40" height="6.40" fill="#fff" stroke="#000" stroke-width="1.6"/>
<rect x="313.04" y="901.50" width="6.40" height="6.40" fill="#fff" stroke="#000" stroke-width="1.6"/>
<rect x="321.77" y="902.80" width="6.40" height="6.40" fill="#fff" stroke="#000" stroke-width="1.6"/>
<rect x="330.49" y="901.30" width="6.40" height="6.40" fill="#fff" stroke="#000" stroke-width="1.6"/>
<rect x="339.21" y="896.10" width="6.40" height="6.40" fill="#fff" stroke="#000" stroke-width="1.6"/>
<rect x="347.94" y="887.40" width="6.40" height="6.40" fill="#fff" stroke="#000" stroke-width="1.6"/>
<rect x="356.66" y="874.90" width="6.40" height="6.40" fill="#fff" stroke="#000" stroke-width="1.6"/>
<rect x="365.38" y="859.00" width="6.40" height="6.40" fill="#fff" stroke="#000" stroke-width="1.6"/>
<rect x="374.11" y="839.80" width="6.40" height="6.40" fill="#fff" stroke="#000" stroke-width="1.6"/>
<rect x="382.83" y="817.70" width="6.40" height="6.40" fill="#fff" stroke="#000" stroke-width="1.6"/>
<rect x="391.55" y="793.80" width="6.40" height="6.40" fill="#fff" stroke="#000" stroke-width="1.6"/>
<rect x="400.27" y="769.30" width="6.40" height="6.40" fill="#fff" stroke="#000" stroke-width="1.6"/>
<rect x="409.00" y="744.90" width="6.40" height="6.40" fill="#fff" stroke="#000" stroke-width="1.6"/>
<rect x="417.72" y="722.30" width="6.40" height="6.40" fill="#fff" stroke="#000" stroke-width="1.6"/>
<rect x="426.44" y="701.90" width="6.40" height="6.40" fill="#fff" stroke="#000" stroke-width="1.6"/>
<rect x="435.17" y="683.90" width="6.40" height="6.40" fill="#fff" stroke="#000" stroke-width="1.6"/>
<rect x="443.89" y="668.20" width="6.40" height="6.40" fill="#fff" stroke="#000" stroke-width="1.6"/>
<rect x="452.61" y="655.30" width="6.40" height="6.40" fill="#fff" stroke="#000" stroke-width="1.6"/>
<rect x="461.33" y="644.30" width="6.40" height="6.40" fill="#fff" stroke="#000" stroke-width="1.6"/>
<rect x="470.06" y="635.80" width="6.40" height="6.40" fill="#fff" stroke="#000" stroke-width="1.6"/>
<rect x="478.78" y="628.60" width="6.40" height="6.40" fill="#fff" stroke="#000" stroke-width="1.6"/>
<rect x="487.50" y="622.70" width="6.40" height="6.40" fill="#fff" stroke="#000" stroke-width="1.6"/>
<rect x="496.23" y="617.80" width="6.40" height="6.40" fill="#fff" stroke="#000" stroke-width="1.6"/>
<rect x="504.95" y="613.80" width="6.40" height="6.40" fill="#fff" stroke="#000" stroke-width="1.6"/>
<rect x="513.67" y="610.60" width="6.40" height="6.40" fill="#fff" stroke="#000" stroke-width="1.6"/>
<rect x="522.39" y="607.80" width="6.40" height="6.40" fill="#fff" stroke="#000" stroke-width="1.6"/>
<rect x="531.12" y="605.40" width="6.40" height="6.40" fill="#fff" stroke="#000" stroke-width="1.6"/>
<rect x="539.84" y="603.70" width="6.40" height="6.40" fill="#fff" stroke="#000" stroke-width="1.6"/>
<rect x="548.56" y="602.20" width="6.40" height="6.40" fill="#fff" stroke="#000" stroke-width="1.6"/>
<rect x="557.29" y="600.80" width="6.40" height="6.40" fill="#fff" stroke="#000" stroke-width="1.6"/>
<rect x="566.01" y="599.80" width="6.40" height="6.40" fill="#fff" stroke="#000" stroke-width="1.6"/>
<rect x="574.73" y="599.10" width="6.40" height="6.40" fill="#fff" stroke="#000" stroke-width="1.6"/>
<rect x="583.45" y="598.70" width="6.40" height="6.40" fill="#fff" stroke="#000" stroke-width="1.6"/>
<rect x="592.18" y="598.40" width="6.40" height="6.40" fill="#fff" stroke="#000" stroke-width="1.6"/>
<rect x="600.90" y="598.70" width="6.40" height="6.40" fill="#fff" stroke="#000" stroke-width="1.6"/>
<path d="M89.45,768.00 L92.40,773.90 L86.50,773.90 Z" fill="#fff" stroke="#f00" stroke-width="1.6" stroke-linejoin="miter"/>
<path d="M98.17,767.50 L101.12,773.40 L95.22,773.40 Z" fill="#fff" stroke="#f00" stroke-width="1.6" stroke-linejoin="miter"/>
<path d="M106.90,765.80 L109.85,771.70 L103.95,771.70 Z" fill="#fff" stroke="#f00" stroke-width="1.6" stroke-linejoin="miter"/>
<path d="M115.62,763.20 L118.57,769.10 L112.67,769.10 Z" fill="#fff" stroke="#f00" stroke-width="1.6" stroke-linejoin="miter"/>
<path d="M124.34,757.60 L127.29,763.50 L121.39,763.50 Z" fill="#fff" stroke="#f00" stroke-width="1.6" stroke-linejoin="miter"/>
<path d="M133.06,760.80 L136.01,766.70 L130.11,766.70 Z" fill="#fff" stroke="#f00" stroke-width="1.6" stroke-linejoin="miter"/>
<path d="M141.79,759.90 L144.74,765.80 L138.84,765.80 Z" fill="#fff" stroke="#f00" stroke-width="1.6" stroke-linejoin="miter"/>
<path d="M150.51,767.10 L153.46,773.00 L147.56,773.00 Z" fill="#fff" stroke="#f00" stroke-width="1.6" stroke-linejoin="miter"/>
<path d="M159.23,773.70 L162.18,779.60 L156.28,779.60 Z" fill="#fff" stroke="#f00" stroke-width="1.6" stroke-linejoin="miter"/>
<path d="M167.96,783.80 L170.91,789.70 L165.01,789.70 Z" fill="#fff" stroke="#f00" stroke-width="1.6" stroke-linejoin="miter"/>
<path d="M176.68,791.20 L179.63,797.10 L173.73,797.10 Z" fill="#fff" stroke="#f00" stroke-width="1.6" stroke-linejoin="miter"/>
<path d="M185.40,800.90 L188.35,806.80 L182.45,806.80 Z" fill="#fff" stroke="#f00" stroke-width="1.6" stroke-linejoin="miter"/>
<path d="M194.12,811.80 L197.07,817.70 L191.17,817.70 Z" fill="#fff" stroke="#f00" stroke-width="1.6" stroke-linejoin="miter"/>
<path d="M202.85,823.80 L205.80,829.70 L199.90,829.70 Z" fill="#fff" stroke="#f00" stroke-width="1.6" stroke-linejoin="miter"/>
<path d="M211.57,836.80 L214.52,842.70 L208.62,842.70 Z" fill="#fff" stroke="#f00" stroke-width="1.6" stroke-linejoin="miter"/>
<path d="M220.29,851.10 L223.24,857.00 L217.34,857.00 Z" fill="#fff" stroke="#f00" stroke-width="1.6" stroke-linejoin="miter"/>
<path d="M229.02,866.30 L231.97,872.20 L226.07,872.20 Z" fill="#fff" stroke="#f00" stroke-width="1.6" stroke-linejoin="miter"/>
<path d="M237.74,882.10 L240.69,888.00 L234.79,888.00 Z" fill="#fff" stroke="#f00" stroke-width="1.6" stroke-linejoin="miter"/>
<path d="M246.46,899.20 L249.41,905.10 L243.51,905.10 Z" fill="#fff" stroke="#f00" stroke-width="1.6" stroke-linejoin="miter"/>
<path d="M255.18,913.10 L258.13,919.00 L252.23,919.00 Z" fill="#fff" stroke="#f00" stroke-width="1.6" stroke-linejoin="miter"/>
<path d="M263.91,925.80 L266.86,931.70 L260.96,931.70 Z" fill="#fff" stroke="#f00" stroke-width="1.6" stroke-linejoin="miter"/>
<path d="M272.63,936.60 L275.58,942.50 L269.68,942.50 Z" fill="#fff" stroke="#f00" stroke-width="1.6" stroke-linejoin="miter"/>
<path d="M281.35,944.90 L284.30,950.80 L278.40,950.80 Z" fill="#fff" stroke="#f00" stroke-width="1.6" stroke-linejoin="miter"/>
<path d="M290.08,952.10 L293.03,958.00 L287.13,958.00 Z" fill="#fff" stroke="#f00" stroke-width="1.6" stroke-linejoin="miter"/>
<path d="M298.80,957.10 L301.75,963.00 L295.85,963.00 Z" fill="#fff" stroke="#f00" stroke-width="1.6" stroke-linejoin="miter"/>
<path d="M307.52,960.20 L310.47,966.10 L304.57,966.10 Z" fill="#fff" stroke="#f00" stroke-width="1.6" stroke-linejoin="miter"/>
<path d="M316.24,962.20 L319.19,968.10 L313.29,968.10 Z" fill="#fff" stroke="#f00" stroke-width="1.6" stroke-linejoin="miter"/>
<path d="M324.97,962.80 L327.92,968.70 L322.02,968.70 Z" fill="#fff" stroke="#f00" stroke-width="1.6" stroke-linejoin="miter"/>
<path d="M333.69,961.80 L336.64,967.70 L330.74,967.70 Z" fill="#fff" stroke="#f00" stroke-width="1.6" stroke-linejoin="miter"/>
<path d="M342.41,959.50 L345.36,965.40 L339.46,965.40 Z" fill="#fff" stroke="#f00" stroke-width="1.6" stroke-linejoin="miter"/>
<path d="M351.14,955.90 L354.09,961.80 L348.19,961.80 Z" fill="#fff" stroke="#f00" stroke-width="1.6" stroke-linejoin="miter"/>
<path d="M359.86,950.40 L362.81,956.30 L356.91,956.30 Z" fill="#fff" stroke="#f00" stroke-width="1.6" stroke-linejoin="miter"/>
<path d="M368.58,943.00 L371.53,948.90 L365.63,948.90 Z" fill="#fff" stroke="#f00" stroke-width="1.6" stroke-linejoin="miter"/>
<path d="M377.31,933.50 L380.26,939.40 L374.36,939.40 Z" fill="#fff" stroke="#f00" stroke-width="1.6" stroke-linejoin="miter"/>
<path d="M386.03,921.70 L388.98,927.60 L383.08,927.60 Z" fill="#fff" stroke="#f00" stroke-width="1.6" stroke-linejoin="miter"/>
<path d="M394.75,907.20 L397.70,913.10 L391.80,913.10 Z" fill="#fff" stroke="#f00" stroke-width="1.6" stroke-linejoin="miter"/>
<path d="M403.47,889.80 L406.42,895.70 L400.52,895.70 Z" fill="#fff" stroke="#f00" stroke-width="1.6" stroke-linejoin="miter"/>
<path d="M412.20,870.70 L415.15,876.60 L409.25,876.60 Z" fill="#fff" stroke="#f00" stroke-width="1.6" stroke-linejoin="miter"/>
<path d="M420.92,849.60 L423.87,855.50 L417.97,855.50 Z" fill="#fff" stroke="#f00" stroke-width="1.6" stroke-linejoin="miter"/>
<path d="M429.64,826.30 L432.59,832.20 L426.69,832.20 Z" fill="#fff" stroke="#f00" stroke-width="1.6" stroke-linejoin="miter"/>
<path d="M438.37,802.60 L441.32,808.50 L435.42,808.50 Z" fill="#fff" stroke="#f00" stroke-width="1.6" stroke-linejoin="miter"/>
<path d="M447.09,779.60 L450.04,785.50 L444.14,785.50 Z" fill="#fff" stroke="#f00" stroke-width="1.6" stroke-linejoin="miter"/>
<path d="M455.81,757.00 L458.76,762.90 L452.86,762.90 Z" fill="#fff" stroke="#f00" stroke-width="1.6" stroke-linejoin="miter"/>
<path d="M464.53,737.80 L467.48,743.70 L461.58,743.70 Z" fill="#fff" stroke="#f00" stroke-width="1.6" stroke-linejoin="miter"/>
<path d="M473.26,720.80 L476.21,726.70 L470.31,726.70 Z" fill="#fff" stroke="#f00" stroke-width="1.6" stroke-linejoin="miter"/>
<path d="M481.98,705.40 L484.93,711.30 L479.03,711.30 Z" fill="#fff" stroke="#f00" stroke-width="1.6" stroke-linejoin="miter"/>
<path d="M490.70,692.70 L493.65,698.60 L487.75,698.60 Z" fill="#fff" stroke="#f00" stroke-width="1.6" stroke-linejoin="miter"/>
<path d="M499.43,681.50 L502.38,687.40 L496.48,687.40 Z" fill="#fff" stroke="#f00" stroke-width="1.6" stroke-linejoin="miter"/>
<path d="M508.15,671.80 L511.10,677.70 L505.20,677.70 Z" fill="#fff" stroke="#f00" stroke-width="1.6" stroke-linejoin="miter"/>
<path d="M516.87,663.30 L519.82,669.20 L513.92,669.20 Z" fill="#fff" stroke="#f00" stroke-width="1.6" stroke-linejoin="miter"/>
<path d="M525.59,655.50 L528.54,661.40 L522.64,661.40 Z" fill="#fff" stroke="#f00" stroke-width="1.6" stroke-linejoin="miter"/>
<path d="M534.32,648.20 L537.27,654.10 L531.37,654.10 Z" fill="#fff" stroke="#f00" stroke-width="1.6" stroke-linejoin="miter"/>
<path d="M543.04,641.60 L545.99,647.50 L540.09,647.50 Z" fill="#fff" stroke="#f00" stroke-width="1.6" stroke-linejoin="miter"/>
<path d="M551.76,635.70 L554.71,641.60 L548.81,641.60 Z" fill="#fff" stroke="#f00" stroke-width="1.6" stroke-linejoin="miter"/>
<path d="M560.49,629.80 L563.44,635.70 L557.54,635.70 Z" fill="#fff" stroke="#f00" stroke-width="1.6" stroke-linejoin="miter"/>
<path d="M569.21,624.80 L572.16,630.70 L566.26,630.70 Z" fill="#fff" stroke="#f00" stroke-width="1.6" stroke-linejoin="miter"/>
<path d="M577.93,620.20 L580.88,626.10 L574.98,626.10 Z" fill="#fff" stroke="#f00" stroke-width="1.6" stroke-linejoin="miter"/>
<path d="M586.65,616.00 L589.60,621.90 L583.70,621.90 Z" fill="#fff" stroke="#f00" stroke-width="1.6" stroke-linejoin="miter"/>
<path d="M595.38,612.10 L598.33,618.00 L592.43,618.00 Z" fill="#fff" stroke="#f00" stroke-width="1.6" stroke-linejoin="miter"/>
<path d="M604.10,609.40 L607.05,615.30 L601.15,615.30 Z" fill="#fff" stroke="#f00" stroke-width="1.6" stroke-linejoin="miter"/>
</g>
<text transform="translate(89.70,1005.50) scale(1,1.075)" text-anchor="middle" font-size="22" font-family='"Liberation Serif", "DejaVu Serif", serif' >10<tspan font-size="20.5" dy="-5.5" dx="0.8">−</tspan><tspan font-size="15.4" dy="-2.8" dx="0.3">2</tspan></text>
<text transform="translate(175.55,1005.50) scale(1,1.075)" text-anchor="middle" font-size="22" font-family='"Liberation Serif", "DejaVu Serif", serif' >10<tspan font-size="20.5" dy="-5.5" dx="0.8">−</tspan><tspan font-size="15.4" dy="-2.8" dx="0.3">1</tspan></text>
<text transform="translate(260.10,1005.50) scale(1,1.075)" text-anchor="middle" font-size="22" font-family='"Liberation Serif", "DejaVu Serif", serif' >10<tspan font-size="15.4" dy="-8.3" dx="0.8">0</tspan></text>
<text transform="translate(345.95,1005.50) scale(1,1.075)" text-anchor="middle" font-size="22" font-family='"Liberation Serif", "DejaVu Serif", serif' >10<tspan font-size="15.4" dy="-8.3" dx="0.8">1</tspan></text>
<text transform="translate(431.80,1005.50) scale(1,1.075)" text-anchor="middle" font-size="22" font-family='"Liberation Serif", "DejaVu Serif", serif' >10<tspan font-size="15.4" dy="-8.3" dx="0.8">2</tspan></text>
<text transform="translate(517.65,1005.50) scale(1,1.075)" text-anchor="middle" font-size="22" font-family='"Liberation Serif", "DejaVu Serif", serif' >10<tspan font-size="15.4" dy="-8.3" dx="0.8">3</tspan></text>
<text transform="translate(603.50,1005.50) scale(1,1.075)" text-anchor="middle" font-size="22" font-family='"Liberation Serif", "DejaVu Serif", serif' >10<tspan font-size="15.4" dy="-8.3" dx="0.8">4</tspan></text>
<text transform="translate(79.20,952.12) scale(1,1.075)" text-anchor="end" font-size="22" font-family='"Liberation Serif", "DejaVu Serif", serif' >10<tspan font-size="20.5" dy="-5.5" dx="0.8">−</tspan><tspan font-size="15.4" dy="-2.8" dx="0.3">1</tspan></text>
<text transform="translate(79.20,834.58) scale(1,1.075)" text-anchor="end" font-size="22" font-family='"Liberation Serif", "DejaVu Serif", serif' >10<tspan font-size="15.4" dy="-8.3" dx="0.8">0</tspan></text>
<text transform="translate(79.20,717.04) scale(1,1.075)" text-anchor="end" font-size="22" font-family='"Liberation Serif", "DejaVu Serif", serif' >10<tspan font-size="15.4" dy="-8.3" dx="0.8">1</tspan></text>
<text transform="translate(79.20,599.50) scale(1,1.075)" text-anchor="end" font-size="22" font-family='"Liberation Serif", "DejaVu Serif", serif' >10<tspan font-size="15.4" dy="-8.3" dx="0.8">2</tspan></text>
<text transform="translate(614.10,599.60) scale(1,1.075)" text-anchor="start" font-size="22" font-family='"Liberation Serif", "DejaVu Serif", serif' >0</text>
<text transform="translate(614.50,648.10) scale(1,1.075)" text-anchor="start" font-size="22" font-family='"Liberation Serif", "DejaVu Serif", serif' ><tspan font-size="29.5" dy="3.2">−</tspan><tspan dy="-3.2" dx="1.5">10</tspan></text>
<text transform="translate(614.50,696.60) scale(1,1.075)" text-anchor="start" font-size="22" font-family='"Liberation Serif", "DejaVu Serif", serif' ><tspan font-size="29.5" dy="3.2">−</tspan><tspan dy="-3.2" dx="1.5">20</tspan></text>
<text transform="translate(614.50,745.10) scale(1,1.075)" text-anchor="start" font-size="22" font-family='"Liberation Serif", "DejaVu Serif", serif' ><tspan font-size="29.5" dy="3.2">−</tspan><tspan dy="-3.2" dx="1.5">30</tspan></text>
<text transform="translate(614.50,793.60) scale(1,1.075)" text-anchor="start" font-size="22" font-family='"Liberation Serif", "DejaVu Serif", serif' ><tspan font-size="29.5" dy="3.2">−</tspan><tspan dy="-3.2" dx="1.5">40</tspan></text>
<text transform="translate(614.50,842.10) scale(1,1.075)" text-anchor="start" font-size="22" font-family='"Liberation Serif", "DejaVu Serif", serif' ><tspan font-size="29.5" dy="3.2">−</tspan><tspan dy="-3.2" dx="1.5">50</tspan></text>
<text transform="translate(614.50,890.60) scale(1,1.075)" text-anchor="start" font-size="22" font-family='"Liberation Serif", "DejaVu Serif", serif' ><tspan font-size="29.5" dy="3.2">−</tspan><tspan dy="-3.2" dx="1.5">60</tspan></text>
<text transform="translate(614.50,939.10) scale(1,1.075)" text-anchor="start" font-size="22" font-family='"Liberation Serif", "DejaVu Serif", serif' ><tspan font-size="29.5" dy="3.2">−</tspan><tspan dy="-3.2" dx="1.5">70</tspan></text>
<text transform="translate(614.50,987.60) scale(1,1.075)" text-anchor="start" font-size="22" font-family='"Liberation Serif", "DejaVu Serif", serif' ><tspan font-size="29.5" dy="3.2">−</tspan><tspan dy="-3.2" dx="1.5">80</tspan></text>
<text transform="translate(347.30,1035.70) scale(1,1.075)" text-anchor="middle" font-size="22" font-family='"Liberation Serif", "DejaVu Serif", serif' letter-spacing="0.1">Frequency (Hz)</text>
<g transform="translate(20.0,784.8) rotate(-90)">
<text transform="translate(0.00,0.00) scale(1,1.075)" text-anchor="middle" font-size="22" font-family='"Liberation Serif", "DejaVu Serif", serif' letter-spacing="0.4">|<tspan font-style="italic" dx="0.7">z</tspan><tspan dx="1.0">|</tspan><tspan dx="0.9"> (</tspan><tspan font-style="italic">kOhm cm</tspan><tspan font-size="15.4" dy="-8.3" dx="0.3">2</tspan><tspan dy="8.3" dx="0.6">)</tspan></text>
</g>
<g transform="translate(680,786) rotate(-90)">
<text transform="translate(0.00,0.00) scale(1,1.075)" text-anchor="middle" font-size="22" font-family='"Liberation Serif", "DejaVu Serif", serif' >Phase Angle (°)</text>
</g>
<text transform="translate(9.50,528.70) scale(1,1.0)" text-anchor="start" font-size="26" font-family='"Liberation Sans", "DejaVu Sans", sans-serif' font-weight="bold">(b)</text>
<rect x="74.75" y="512.55" width="6.50" height="6.50" fill="#000" stroke="#000" stroke-width="1.5"/>
<text transform="translate(119.60,522.20) scale(1,1.075)" text-anchor="start" font-size="22" font-family='"Liberation Serif", "DejaVu Serif", serif' >|<tspan font-style="italic" dx="0.7">z</tspan><tspan dx="1.0">|</tspan><tspan dx="0.9"> -</tspan><tspan dx="0.4"> Uninhibited</tspan></text>
<path d="M78.00,547.25 L81.00,553.25 L75.00,553.25 Z" fill="#f00" stroke="#f00" stroke-width="1.5" stroke-linejoin="miter"/>
<text transform="translate(119.60,555.90) scale(1,1.075)" text-anchor="start" font-size="22" font-family='"Liberation Serif", "DejaVu Serif", serif' >|<tspan font-style="italic" dx="0.7">z</tspan><tspan dx="1.0">|</tspan><tspan dx="0.9"> -</tspan><tspan dx="0.4"> Thiobarbituric acid</tspan></text>
<rect x="368.60" y="513.70" width="6.40" height="6.40" fill="#fff" stroke="#000" stroke-width="1.6"/>
<text transform="translate(411.40,522.60) scale(1,1.075)" text-anchor="start" font-size="22" font-family='"Liberation Serif", "DejaVu Serif", serif' >Phase - Uninhibited</text>
<path d="M371.80,546.70 L374.75,552.60 L368.85,552.60 Z" fill="#fff" stroke="#f00" stroke-width="1.6" stroke-linejoin="miter"/>
<text transform="translate(411.40,554.60) scale(1,1.075)" text-anchor="start" font-size="22" font-family='"Liberation Serif", "DejaVu Serif", serif' >Phase - Thiobarbituric acid</text>
</svg>
</body></html>
